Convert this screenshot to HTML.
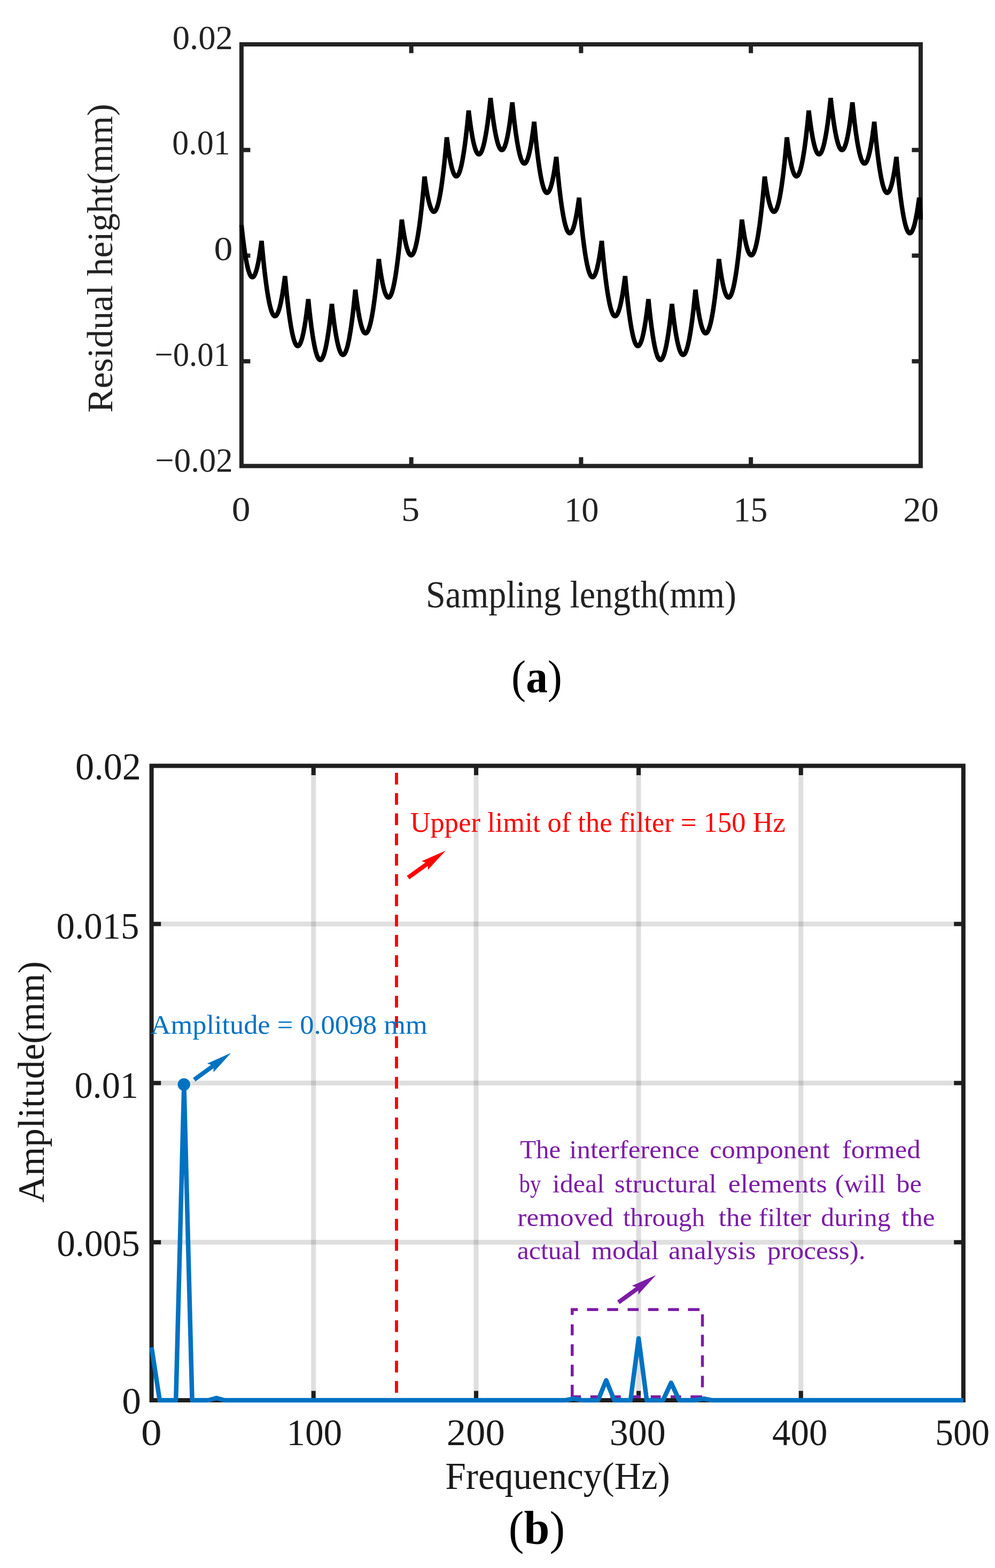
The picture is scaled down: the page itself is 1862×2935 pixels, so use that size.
<!DOCTYPE html>
<html><head><meta charset="utf-8"><title>Figure</title>
<style>html,body{margin:0;padding:0;background:#fff;}svg{display:block;}</style>
</head><body>
<svg width="1862" height="2935" viewBox="0 0 1862 2935"><rect x="451.9" y="83.0" width="1271.0" height="789.3" fill="none" stroke="#222222" stroke-width="8"/>
<path d="M769.65,83.0V99.5M769.65,872.3V855.8M1087.40,83.0V99.5M1087.40,872.3V855.8M1405.15,83.0V99.5M1405.15,872.3V855.8M451.9,280.80H468.4M1722.9,280.80H1706.4M451.9,478.50H468.4M1722.9,478.50H1706.4M451.9,676.30H468.4M1722.9,676.30H1706.4" stroke="#222222" stroke-width="8" fill="none"/>
<path d="M451.90,421.30 L452.14,423.59 L452.56,427.51 L452.98,431.36 L453.40,435.12 L453.82,438.80 L454.24,442.40 L454.66,445.91 L455.08,449.35 L455.50,452.69 L455.92,455.96 L456.34,459.14 L456.76,462.25 L457.18,465.26 L457.60,468.20 L458.02,471.05 L458.44,473.82 L458.86,476.51 L459.28,479.12 L459.70,481.64 L460.12,484.08 L460.54,486.43 L460.96,488.71 L461.38,490.90 L461.80,493.01 L462.22,495.03 L462.64,496.98 L463.06,498.84 L463.48,500.62 L463.90,502.31 L464.32,503.92 L464.74,505.45 L465.16,506.90 L465.58,508.27 L466.00,509.55 L466.42,510.75 L466.84,511.86 L467.26,512.90 L467.68,513.85 L468.10,514.72 L468.52,515.50 L468.94,516.20 L469.36,516.82 L469.78,517.36 L470.20,517.82 L470.62,518.19 L471.04,518.48 L471.46,518.68 L471.88,518.81 L472.30,518.85 L472.59,518.83 L472.87,518.77 L473.16,518.68 L473.45,518.55 L473.73,518.38 L474.02,518.17 L474.31,517.93 L474.59,517.64 L474.88,517.32 L475.17,516.97 L475.45,516.57 L475.74,516.14 L476.03,515.66 L476.31,515.16 L476.60,514.61 L476.89,514.03 L477.17,513.40 L477.46,512.74 L477.75,512.05 L478.03,511.31 L478.32,510.54 L478.61,509.73 L478.89,508.88 L479.18,507.99 L479.47,507.07 L479.75,506.11 L480.04,505.11 L480.33,504.07 L480.61,503.00 L480.90,501.89 L481.19,500.74 L481.47,499.55 L481.76,498.33 L482.05,497.06 L482.33,495.76 L482.62,494.42 L482.91,493.05 L483.19,491.63 L483.48,490.18 L483.77,488.69 L484.05,487.17 L484.34,485.60 L484.63,484.00 L484.91,482.36 L485.20,480.68 L485.49,478.97 L485.77,477.22 L486.06,475.43 L486.35,473.60 L486.63,471.73 L486.92,469.83 L487.21,467.89 L487.49,465.91 L487.78,463.89 L488.07,461.84 L488.35,459.75 L488.64,457.62 L488.93,455.45 L489.21,453.24 L489.50,451.00 L489.92,455.65 L490.33,460.23 L490.75,464.72 L491.17,469.14 L491.58,473.48 L492.00,477.74 L492.42,481.93 L492.83,486.03 L493.25,490.06 L493.67,494.01 L494.08,497.88 L494.50,501.67 L494.92,505.38 L495.33,509.02 L495.75,512.58 L496.17,516.06 L496.58,519.46 L497.00,522.78 L497.42,526.03 L497.83,529.19 L498.25,532.28 L498.67,535.29 L499.08,538.23 L499.50,541.08 L499.92,543.86 L500.33,546.55 L500.75,549.17 L501.17,551.71 L501.58,554.18 L502.00,556.56 L502.42,558.87 L502.83,561.10 L503.25,563.25 L503.67,565.32 L504.08,567.31 L504.50,569.23 L504.92,571.07 L505.33,572.83 L505.75,574.51 L506.17,576.11 L506.58,577.64 L507.00,579.08 L507.42,580.45 L507.83,581.74 L508.25,582.95 L508.67,584.09 L509.08,585.14 L509.50,586.12 L509.92,587.02 L510.33,587.84 L510.75,588.58 L511.17,589.25 L511.58,589.83 L512.00,590.34 L512.42,590.77 L512.83,591.12 L513.25,591.40 L513.67,591.59 L514.08,591.71 L514.50,591.75 L514.81,591.73 L515.13,591.67 L515.44,591.56 L515.75,591.42 L516.07,591.23 L516.38,591.00 L516.69,590.73 L517.01,590.42 L517.32,590.06 L517.63,589.67 L517.95,589.23 L518.26,588.75 L518.57,588.23 L518.89,587.67 L519.20,587.07 L519.51,586.42 L519.83,585.73 L520.14,585.00 L520.45,584.23 L520.77,583.42 L521.08,582.57 L521.39,581.67 L521.71,580.74 L522.02,579.76 L522.33,578.74 L522.65,577.68 L522.96,576.57 L523.27,575.43 L523.59,574.24 L523.90,573.01 L524.21,571.74 L524.53,570.43 L524.84,569.08 L525.15,567.68 L525.47,566.25 L525.78,564.77 L526.09,563.25 L526.41,561.69 L526.72,560.08 L527.03,558.44 L527.35,556.75 L527.66,555.02 L527.97,553.25 L528.29,551.44 L528.60,549.59 L528.91,547.70 L529.23,545.76 L529.54,543.78 L529.85,541.76 L530.17,539.70 L530.48,537.60 L530.79,535.45 L531.11,533.27 L531.42,531.04 L531.73,528.77 L532.05,526.46 L532.36,524.11 L532.67,521.71 L532.99,519.28 L533.30,516.80 L533.70,521.13 L534.10,525.38 L534.50,529.57 L534.89,533.68 L535.29,537.72 L535.69,541.68 L536.09,545.57 L536.49,549.39 L536.88,553.14 L537.28,556.81 L537.68,560.41 L538.08,563.94 L538.48,567.40 L538.88,570.78 L539.27,574.09 L539.67,577.33 L540.07,580.49 L540.47,583.58 L540.87,586.60 L541.27,589.55 L541.66,592.42 L542.06,595.22 L542.46,597.95 L542.86,600.61 L543.26,603.19 L543.66,605.70 L544.05,608.14 L544.45,610.50 L544.85,612.79 L545.25,615.01 L545.65,617.16 L546.05,619.23 L546.45,621.23 L546.84,623.16 L547.24,625.02 L547.64,626.80 L548.04,628.51 L548.44,630.14 L548.84,631.71 L549.23,633.20 L549.63,634.62 L550.03,635.96 L550.43,637.24 L550.83,638.44 L551.23,639.57 L551.62,640.62 L552.02,641.60 L552.42,642.51 L552.82,643.35 L553.22,644.11 L553.62,644.80 L554.01,645.42 L554.41,645.97 L554.81,646.44 L555.21,646.84 L555.61,647.17 L556.00,647.42 L556.40,647.60 L556.80,647.71 L557.20,647.75 L557.53,647.73 L557.86,647.65 L558.19,647.53 L558.51,647.36 L558.84,647.14 L559.17,646.87 L559.50,646.56 L559.83,646.19 L560.16,645.78 L560.48,645.31 L560.81,644.80 L561.14,644.24 L561.47,643.63 L561.80,642.97 L562.12,642.27 L562.45,641.51 L562.78,640.71 L563.11,639.85 L563.44,638.95 L563.77,638.00 L564.10,637.00 L564.42,635.95 L564.75,634.86 L565.08,633.71 L565.41,632.52 L565.74,631.27 L566.07,629.98 L566.39,628.64 L566.72,627.25 L567.05,625.81 L567.38,624.33 L567.71,622.79 L568.03,621.21 L568.36,619.57 L568.69,617.89 L569.02,616.16 L569.35,614.38 L569.68,612.55 L570.00,610.68 L570.33,608.75 L570.66,606.78 L570.99,604.75 L571.32,602.68 L571.65,600.56 L571.98,598.39 L572.30,596.17 L572.63,593.91 L572.96,591.59 L573.29,589.23 L573.62,586.81 L573.94,584.35 L574.27,581.84 L574.60,579.28 L574.93,576.67 L575.26,574.02 L575.59,571.31 L575.91,568.56 L576.24,565.75 L576.57,562.90 L576.90,560.00 L577.27,563.76 L577.65,567.46 L578.02,571.09 L578.39,574.66 L578.77,578.17 L579.14,581.61 L579.51,584.99 L579.89,588.31 L580.26,591.57 L580.63,594.76 L581.01,597.89 L581.38,600.95 L581.75,603.95 L582.13,606.89 L582.50,609.77 L582.87,612.58 L583.25,615.33 L583.62,618.01 L583.99,620.64 L584.37,623.19 L584.74,625.69 L585.11,628.12 L585.49,630.49 L585.86,632.80 L586.23,635.04 L586.61,637.22 L586.98,639.34 L587.35,641.39 L587.73,643.39 L588.10,645.31 L588.47,647.18 L588.85,648.98 L589.22,650.72 L589.59,652.39 L589.97,654.00 L590.34,655.55 L590.71,657.04 L591.09,658.46 L591.46,659.82 L591.83,661.11 L592.21,662.34 L592.58,663.51 L592.95,664.62 L593.33,665.66 L593.70,666.64 L594.07,667.56 L594.45,668.41 L594.82,669.20 L595.19,669.93 L595.57,670.59 L595.94,671.19 L596.31,671.73 L596.69,672.20 L597.06,672.61 L597.43,672.96 L597.81,673.24 L598.18,673.47 L598.55,673.62 L598.93,673.72 L599.30,673.75 L599.66,673.72 L600.02,673.63 L600.38,673.49 L600.75,673.28 L601.11,673.02 L601.47,672.70 L601.83,672.32 L602.19,671.89 L602.55,671.39 L602.92,670.84 L603.28,670.23 L603.64,669.56 L604.00,668.83 L604.36,668.05 L604.72,667.20 L605.09,666.30 L605.45,665.34 L605.81,664.32 L606.17,663.25 L606.53,662.11 L606.89,660.92 L607.26,659.67 L607.62,658.36 L607.98,656.99 L608.34,655.56 L608.70,654.08 L609.06,652.54 L609.43,650.94 L609.79,649.28 L610.15,647.56 L610.51,645.79 L610.87,643.95 L611.24,642.06 L611.60,640.11 L611.96,638.11 L612.32,636.04 L612.68,633.92 L613.04,631.73 L613.40,629.49 L613.77,627.19 L614.13,624.84 L614.49,622.42 L614.85,619.95 L615.21,617.42 L615.58,614.83 L615.94,612.18 L616.30,609.47 L616.66,606.71 L617.02,603.89 L617.38,601.01 L617.75,598.07 L618.11,595.07 L618.47,592.02 L618.83,588.90 L619.19,585.73 L619.55,582.50 L619.91,579.21 L620.28,575.87 L620.64,572.46 L621.00,569.00 L621.35,572.15 L621.69,575.24 L622.04,578.29 L622.39,581.28 L622.73,584.21 L623.08,587.10 L623.43,589.93 L623.77,592.71 L624.12,595.43 L624.47,598.10 L624.81,600.72 L625.16,603.29 L625.51,605.80 L625.85,608.26 L626.20,610.67 L626.55,613.03 L626.89,615.33 L627.24,617.58 L627.59,619.77 L627.93,621.92 L628.28,624.01 L628.63,626.04 L628.97,628.03 L629.32,629.96 L629.67,631.84 L630.01,633.66 L630.36,635.44 L630.71,637.16 L631.05,638.82 L631.40,640.44 L631.75,642.00 L632.09,643.51 L632.44,644.96 L632.79,646.36 L633.13,647.71 L633.48,649.01 L633.83,650.25 L634.17,651.44 L634.52,652.58 L634.87,653.67 L635.21,654.70 L635.56,655.68 L635.91,656.60 L636.25,657.48 L636.60,658.30 L636.95,659.06 L637.29,659.78 L637.64,660.44 L637.99,661.05 L638.33,661.60 L638.68,662.11 L639.03,662.56 L639.37,662.95 L639.72,663.30 L640.07,663.59 L640.41,663.83 L640.76,664.01 L641.11,664.14 L641.45,664.22 L641.80,664.25 L642.19,664.22 L642.57,664.11 L642.96,663.95 L643.35,663.71 L643.73,663.40 L644.12,663.03 L644.51,662.59 L644.89,662.08 L645.28,661.51 L645.67,660.86 L646.05,660.15 L646.44,659.37 L646.83,658.53 L647.21,657.61 L647.60,656.63 L647.99,655.58 L648.37,654.46 L648.76,653.27 L649.15,652.02 L649.53,650.70 L649.92,649.31 L650.31,647.85 L650.69,646.33 L651.08,644.74 L651.47,643.08 L651.85,641.35 L652.24,639.56 L652.63,637.69 L653.01,635.76 L653.40,633.76 L653.79,631.70 L654.17,629.56 L654.56,627.36 L654.95,625.09 L655.33,622.75 L655.72,620.35 L656.11,617.88 L656.49,615.33 L656.88,612.73 L657.27,610.05 L657.65,607.31 L658.04,604.49 L658.43,601.62 L658.81,598.67 L659.20,595.65 L659.59,592.57 L659.97,589.42 L660.36,586.20 L660.75,582.92 L661.13,579.56 L661.52,576.14 L661.91,572.65 L662.29,569.10 L662.68,565.47 L663.07,561.78 L663.45,558.02 L663.84,554.19 L664.23,550.29 L664.61,546.33 L665.00,542.30 L665.32,545.00 L665.64,547.65 L665.96,550.25 L666.27,552.81 L666.59,555.33 L666.91,557.79 L667.23,560.22 L667.55,562.60 L667.87,564.93 L668.18,567.22 L668.50,569.46 L668.82,571.66 L669.14,573.81 L669.46,575.92 L669.77,577.98 L670.09,579.99 L670.41,581.97 L670.73,583.89 L671.05,585.77 L671.37,587.61 L671.69,589.40 L672.00,591.14 L672.32,592.84 L672.64,594.49 L672.96,596.10 L673.28,597.66 L673.60,599.18 L673.91,600.65 L674.23,602.08 L674.55,603.46 L674.87,604.80 L675.19,606.09 L675.50,607.34 L675.82,608.54 L676.14,609.69 L676.46,610.80 L676.78,611.87 L677.10,612.89 L677.41,613.86 L677.73,614.79 L678.05,615.67 L678.37,616.51 L678.69,617.30 L679.01,618.05 L679.33,618.75 L679.64,619.41 L679.96,620.02 L680.28,620.59 L680.60,621.11 L680.92,621.58 L681.24,622.02 L681.55,622.40 L681.87,622.74 L682.19,623.03 L682.51,623.28 L682.83,623.49 L683.14,623.65 L683.46,623.76 L683.78,623.83 L684.10,623.85 L684.51,623.81 L684.93,623.70 L685.34,623.50 L685.75,623.23 L686.17,622.89 L686.58,622.46 L686.99,621.96 L687.41,621.38 L687.82,620.73 L688.23,619.99 L688.65,619.18 L689.06,618.30 L689.47,617.33 L689.89,616.29 L690.30,615.17 L690.71,613.98 L691.13,612.70 L691.54,611.35 L691.95,609.93 L692.37,608.42 L692.78,606.84 L693.19,605.18 L693.61,603.45 L694.02,601.63 L694.43,599.74 L694.85,597.78 L695.26,595.73 L695.67,593.61 L696.09,591.41 L696.50,589.14 L696.91,586.78 L697.33,584.35 L697.74,581.85 L698.15,579.26 L698.57,576.60 L698.98,573.86 L699.39,571.05 L699.81,568.16 L700.22,565.19 L700.63,562.14 L701.05,559.01 L701.46,555.81 L701.87,552.54 L702.29,549.18 L702.70,545.75 L703.11,542.24 L703.53,538.65 L703.94,534.99 L704.35,531.24 L704.77,527.43 L705.18,523.53 L705.59,519.56 L706.01,515.51 L706.42,511.38 L706.83,507.18 L707.25,502.90 L707.66,498.54 L708.07,494.10 L708.49,489.59 L708.90,485.00 L709.20,487.38 L709.50,489.71 L709.80,492.01 L710.11,494.26 L710.41,496.48 L710.71,498.65 L711.01,500.79 L711.31,502.88 L711.62,504.94 L711.92,506.95 L712.22,508.93 L712.52,510.87 L712.82,512.76 L713.12,514.62 L713.42,516.43 L713.73,518.21 L714.03,519.95 L714.33,521.64 L714.63,523.30 L714.93,524.92 L715.24,526.49 L715.54,528.03 L715.84,529.53 L716.14,530.98 L716.44,532.40 L716.74,533.78 L717.04,535.12 L717.35,536.41 L717.65,537.67 L717.95,538.89 L718.25,540.07 L718.55,541.20 L718.86,542.30 L719.16,543.36 L719.46,544.38 L719.76,545.35 L720.06,546.29 L720.36,547.19 L720.66,548.05 L720.97,548.87 L721.27,549.65 L721.57,550.38 L721.87,551.08 L722.17,551.74 L722.48,552.36 L722.78,552.94 L723.08,553.48 L723.38,553.98 L723.68,554.44 L723.98,554.85 L724.28,555.23 L724.59,555.57 L724.89,555.87 L725.19,556.13 L725.49,556.35 L725.79,556.53 L726.10,556.67 L726.40,556.77 L726.70,556.83 L727.00,556.85 L727.41,556.81 L727.83,556.69 L728.25,556.49 L728.66,556.20 L729.08,555.84 L729.49,555.39 L729.90,554.86 L730.32,554.26 L730.74,553.57 L731.15,552.80 L731.56,551.95 L731.98,551.02 L732.39,550.00 L732.81,548.91 L733.23,547.73 L733.64,546.48 L734.05,545.14 L734.47,543.72 L734.88,542.22 L735.30,540.64 L735.72,538.98 L736.13,537.24 L736.54,535.42 L736.96,533.51 L737.38,531.53 L737.79,529.46 L738.21,527.32 L738.62,525.09 L739.03,522.78 L739.45,520.39 L739.87,517.92 L740.28,515.36 L740.69,512.73 L741.11,510.02 L741.52,507.22 L741.94,504.34 L742.36,501.39 L742.77,498.35 L743.18,495.23 L743.60,492.03 L744.01,488.75 L744.43,485.38 L744.85,481.94 L745.26,478.42 L745.67,474.81 L746.09,471.12 L746.50,467.35 L746.92,463.51 L747.34,459.58 L747.75,455.57 L748.16,451.47 L748.58,447.30 L749.00,443.05 L749.41,438.71 L749.82,434.30 L750.24,429.80 L750.65,425.22 L751.07,420.56 L751.49,415.82 L751.90,411.00 L752.19,413.21 L752.49,415.38 L752.78,417.52 L753.07,419.62 L753.37,421.68 L753.66,423.70 L753.95,425.69 L754.25,427.64 L754.54,429.55 L754.83,431.43 L755.13,433.26 L755.42,435.07 L755.71,436.83 L756.01,438.56 L756.30,440.25 L756.59,441.90 L756.89,443.52 L757.18,445.09 L757.47,446.63 L757.77,448.14 L758.06,449.61 L758.35,451.04 L758.65,452.43 L758.94,453.78 L759.23,455.10 L759.53,456.38 L759.82,457.63 L760.11,458.83 L760.41,460.00 L760.70,461.14 L760.99,462.23 L761.29,463.29 L761.58,464.31 L761.87,465.30 L762.17,466.24 L762.46,467.15 L762.75,468.03 L763.05,468.86 L763.34,469.66 L763.63,470.42 L763.93,471.15 L764.22,471.83 L764.51,472.48 L764.81,473.10 L765.10,473.67 L765.39,474.21 L765.69,474.71 L765.98,475.18 L766.27,475.60 L766.57,475.99 L766.86,476.35 L767.15,476.66 L767.45,476.94 L767.74,477.18 L768.03,477.39 L768.33,477.55 L768.62,477.68 L768.91,477.78 L769.21,477.83 L769.50,477.85 L769.92,477.81 L770.33,477.69 L770.75,477.48 L771.17,477.20 L771.58,476.83 L772.00,476.38 L772.42,475.84 L772.83,475.23 L773.25,474.53 L773.67,473.76 L774.08,472.90 L774.50,471.96 L774.92,470.93 L775.33,469.83 L775.75,468.64 L776.17,467.37 L776.58,466.02 L777.00,464.59 L777.42,463.07 L777.83,461.48 L778.25,459.80 L778.67,458.04 L779.08,456.20 L779.50,454.27 L779.92,452.27 L780.33,450.18 L780.75,448.01 L781.17,445.76 L781.58,443.43 L782.00,441.01 L782.42,438.52 L782.83,435.94 L783.25,433.28 L783.67,430.53 L784.08,427.71 L784.50,424.80 L784.92,421.82 L785.33,418.75 L785.75,415.59 L786.17,412.36 L786.58,409.05 L787.00,405.65 L787.42,402.17 L787.83,398.61 L788.25,394.97 L788.67,391.24 L789.08,387.43 L789.50,383.55 L789.92,379.58 L790.33,375.52 L790.75,371.39 L791.17,367.17 L791.58,362.88 L792.00,358.50 L792.42,354.04 L792.83,349.49 L793.25,344.87 L793.67,340.16 L794.08,335.37 L794.50,330.50 L794.79,332.68 L795.08,334.82 L795.38,336.92 L795.67,338.99 L795.96,341.02 L796.25,343.01 L796.54,344.97 L796.83,346.89 L797.12,348.77 L797.42,350.62 L797.71,352.43 L798.00,354.21 L798.29,355.94 L798.58,357.64 L798.88,359.31 L799.17,360.94 L799.46,362.53 L799.75,364.08 L800.04,365.60 L800.33,367.08 L800.62,368.53 L800.92,369.94 L801.21,371.31 L801.50,372.64 L801.79,373.94 L802.08,375.20 L802.38,376.43 L802.67,377.62 L802.96,378.77 L803.25,379.89 L803.54,380.97 L803.83,382.01 L804.12,383.02 L804.42,383.98 L804.71,384.92 L805.00,385.81 L805.29,386.67 L805.58,387.50 L805.88,388.28 L806.17,389.03 L806.46,389.75 L806.75,390.42 L807.04,391.06 L807.33,391.67 L807.62,392.23 L807.92,392.76 L808.21,393.26 L808.50,393.72 L808.79,394.14 L809.08,394.52 L809.38,394.87 L809.67,395.18 L809.96,395.45 L810.25,395.69 L810.54,395.89 L810.83,396.06 L811.12,396.19 L811.42,396.28 L811.71,396.33 L812.00,396.35 L812.40,396.31 L812.80,396.20 L813.21,396.00 L813.61,395.73 L814.01,395.38 L814.41,394.96 L814.81,394.45 L815.21,393.87 L815.62,393.21 L816.02,392.48 L816.42,391.67 L816.82,390.78 L817.22,389.81 L817.62,388.76 L818.02,387.64 L818.43,386.44 L818.83,385.16 L819.23,383.81 L819.63,382.38 L820.03,380.87 L820.44,379.28 L820.84,377.62 L821.24,375.87 L821.64,374.05 L822.04,372.16 L822.44,370.18 L822.85,368.13 L823.25,366.00 L823.65,363.80 L824.05,361.51 L824.45,359.15 L824.85,356.71 L825.25,354.20 L825.66,351.60 L826.06,348.93 L826.46,346.18 L826.86,343.36 L827.26,340.46 L827.66,337.47 L828.07,334.42 L828.47,331.28 L828.87,328.07 L829.27,324.78 L829.67,321.41 L830.08,317.97 L830.48,314.44 L830.88,310.84 L831.28,307.17 L831.68,303.41 L832.08,299.58 L832.49,295.67 L832.89,291.68 L833.29,287.62 L833.69,283.48 L834.09,279.26 L834.49,274.96 L834.89,270.59 L835.30,266.14 L835.70,261.61 L836.10,257.00 L836.40,259.41 L836.70,261.79 L837.00,264.12 L837.29,266.42 L837.59,268.67 L837.89,270.88 L838.19,273.05 L838.49,275.18 L838.78,277.27 L839.08,279.32 L839.38,281.33 L839.68,283.30 L839.98,285.23 L840.28,287.11 L840.58,288.96 L840.87,290.77 L841.17,292.53 L841.47,294.26 L841.77,295.94 L842.07,297.58 L842.37,299.19 L842.66,300.75 L842.96,302.27 L843.26,303.75 L843.56,305.19 L843.86,306.59 L844.15,307.95 L844.45,309.27 L844.75,310.55 L845.05,311.79 L845.35,312.98 L845.65,314.14 L845.95,315.26 L846.24,316.33 L846.54,317.37 L846.84,318.36 L847.14,319.32 L847.44,320.23 L847.74,321.10 L848.03,321.93 L848.33,322.72 L848.63,323.48 L848.93,324.19 L849.23,324.86 L849.52,325.48 L849.82,326.07 L850.12,326.62 L850.42,327.13 L850.72,327.59 L851.02,328.02 L851.32,328.41 L851.61,328.75 L851.91,329.06 L852.21,329.32 L852.51,329.54 L852.81,329.73 L853.11,329.87 L853.40,329.97 L853.70,330.03 L854.00,330.05 L854.38,330.02 L854.77,329.91 L855.15,329.74 L855.53,329.50 L855.92,329.20 L856.30,328.82 L856.68,328.38 L857.07,327.86 L857.45,327.28 L857.83,326.63 L858.22,325.91 L858.60,325.13 L858.98,324.27 L859.37,323.35 L859.75,322.36 L860.13,321.30 L860.52,320.17 L860.90,318.98 L861.28,317.71 L861.67,316.38 L862.05,314.98 L862.43,313.51 L862.82,311.97 L863.20,310.36 L863.58,308.69 L863.97,306.94 L864.35,305.13 L864.73,303.25 L865.12,301.30 L865.50,299.29 L865.88,297.20 L866.27,295.05 L866.65,292.83 L867.03,290.54 L867.42,288.18 L867.80,285.75 L868.18,283.26 L868.57,280.69 L868.95,278.06 L869.33,275.36 L869.72,272.59 L870.10,269.76 L870.48,266.85 L870.87,263.88 L871.25,260.83 L871.63,257.72 L872.02,254.55 L872.40,251.30 L872.78,247.98 L873.17,244.60 L873.55,241.15 L873.93,237.63 L874.32,234.04 L874.70,230.38 L875.08,226.65 L875.47,222.86 L875.85,219.00 L876.23,215.07 L876.62,211.07 L877.00,207.00 L877.32,209.71 L877.64,212.37 L877.96,214.98 L878.28,217.55 L878.60,220.07 L878.92,222.55 L879.24,224.98 L879.56,227.37 L879.88,229.71 L880.20,232.01 L880.52,234.26 L880.84,236.47 L881.16,238.63 L881.48,240.74 L881.80,242.81 L882.12,244.83 L882.44,246.81 L882.76,248.74 L883.08,250.63 L883.40,252.47 L883.72,254.27 L884.04,256.02 L884.36,257.72 L884.68,259.38 L885.00,261.00 L885.32,262.57 L885.64,264.09 L885.96,265.57 L886.28,267.00 L886.60,268.39 L886.92,269.73 L887.24,271.02 L887.56,272.28 L887.88,273.48 L888.20,274.64 L888.52,275.75 L888.84,276.82 L889.16,277.85 L889.48,278.82 L889.80,279.76 L890.12,280.64 L890.44,281.48 L890.76,282.28 L891.08,283.03 L891.40,283.73 L891.72,284.39 L892.04,285.01 L892.36,285.58 L892.68,286.10 L893.00,286.58 L893.32,287.01 L893.64,287.39 L893.96,287.74 L894.28,288.03 L894.60,288.28 L894.92,288.49 L895.24,288.65 L895.56,288.76 L895.88,288.83 L896.20,288.85 L896.56,288.82 L896.93,288.73 L897.29,288.59 L897.65,288.38 L898.02,288.12 L898.38,287.80 L898.74,287.41 L899.11,286.98 L899.47,286.48 L899.83,285.92 L900.20,285.31 L900.56,284.63 L900.92,283.90 L901.29,283.11 L901.65,282.26 L902.01,281.35 L902.38,280.38 L902.74,279.36 L903.10,278.28 L903.47,277.13 L903.83,275.93 L904.19,274.67 L904.56,273.35 L904.92,271.98 L905.28,270.54 L905.65,269.05 L906.01,267.50 L906.37,265.89 L906.74,264.22 L907.10,262.49 L907.46,260.70 L907.83,258.86 L908.19,256.95 L908.55,254.99 L908.92,252.97 L909.28,250.89 L909.64,248.75 L910.01,246.55 L910.37,244.30 L910.73,241.98 L911.10,239.61 L911.46,237.18 L911.82,234.69 L912.19,232.14 L912.55,229.53 L912.91,226.87 L913.28,224.14 L913.64,221.36 L914.00,218.52 L914.37,215.62 L914.73,212.66 L915.09,209.65 L915.46,206.57 L915.82,203.44 L916.18,200.24 L916.55,196.99 L916.91,193.68 L917.27,190.31 L917.64,186.89 L918.00,183.40 L918.35,186.62 L918.71,189.79 L919.06,192.90 L919.41,195.96 L919.77,198.96 L920.12,201.92 L920.47,204.81 L920.83,207.65 L921.18,210.44 L921.53,213.18 L921.89,215.86 L922.24,218.48 L922.59,221.05 L922.95,223.57 L923.30,226.03 L923.65,228.44 L924.01,230.80 L924.36,233.10 L924.71,235.35 L925.07,237.54 L925.42,239.68 L925.77,241.76 L926.13,243.79 L926.48,245.77 L926.83,247.69 L927.19,249.56 L927.54,251.37 L927.89,253.13 L928.25,254.84 L928.60,256.49 L928.95,258.08 L929.31,259.63 L929.66,261.12 L930.01,262.55 L930.37,263.93 L930.72,265.26 L931.07,266.53 L931.43,267.75 L931.78,268.91 L932.13,270.02 L932.49,271.08 L932.84,272.08 L933.19,273.03 L933.55,273.92 L933.90,274.76 L934.25,275.54 L934.61,276.28 L934.96,276.95 L935.31,277.57 L935.67,278.14 L936.02,278.66 L936.37,279.12 L936.73,279.52 L937.08,279.88 L937.43,280.17 L937.79,280.42 L938.14,280.61 L938.49,280.74 L938.85,280.82 L939.20,280.85 L939.53,280.83 L939.85,280.75 L940.18,280.63 L940.50,280.45 L940.83,280.23 L941.15,279.96 L941.48,279.64 L941.80,279.27 L942.12,278.84 L942.45,278.37 L942.78,277.85 L943.10,277.28 L943.43,276.66 L943.75,276.00 L944.08,275.28 L944.40,274.51 L944.73,273.69 L945.05,272.83 L945.38,271.91 L945.70,270.94 L946.03,269.93 L946.35,268.86 L946.68,267.75 L947.00,266.59 L947.33,265.37 L947.65,264.11 L947.98,262.80 L948.30,261.44 L948.62,260.02 L948.95,258.56 L949.28,257.05 L949.60,255.49 L949.93,253.88 L950.25,252.22 L950.58,250.51 L950.90,248.76 L951.23,246.95 L951.55,245.09 L951.88,243.18 L952.20,241.23 L952.53,239.22 L952.85,237.17 L953.18,235.06 L953.50,232.91 L953.83,230.70 L954.15,228.45 L954.48,226.15 L954.80,223.79 L955.12,221.39 L955.45,218.94 L955.78,216.44 L956.10,213.89 L956.43,211.29 L956.75,208.64 L957.08,205.94 L957.40,203.19 L957.73,200.39 L958.05,197.54 L958.38,194.65 L958.70,191.70 L959.08,195.48 L959.45,199.20 L959.83,202.85 L960.21,206.44 L960.58,209.96 L960.96,213.43 L961.34,216.83 L961.71,220.16 L962.09,223.43 L962.47,226.64 L962.84,229.78 L963.22,232.87 L963.60,235.88 L963.97,238.84 L964.35,241.73 L964.73,244.56 L965.10,247.32 L965.48,250.02 L965.86,252.65 L966.23,255.23 L966.61,257.74 L966.99,260.18 L967.36,262.57 L967.74,264.88 L968.12,267.14 L968.49,269.33 L968.87,271.46 L969.25,273.52 L969.62,275.52 L970.00,277.46 L970.38,279.34 L970.75,281.15 L971.13,282.89 L971.51,284.58 L971.88,286.20 L972.26,287.75 L972.64,289.25 L973.01,290.68 L973.39,292.04 L973.77,293.34 L974.14,294.58 L974.52,295.76 L974.90,296.87 L975.27,297.92 L975.65,298.90 L976.03,299.82 L976.40,300.68 L976.78,301.48 L977.16,302.21 L977.53,302.87 L977.91,303.48 L978.29,304.02 L978.66,304.49 L979.04,304.91 L979.42,305.26 L979.79,305.54 L980.17,305.76 L980.55,305.92 L980.92,306.02 L981.30,306.05 L981.60,306.03 L981.91,305.96 L982.21,305.85 L982.52,305.70 L982.82,305.51 L983.13,305.27 L983.43,304.99 L983.74,304.66 L984.04,304.29 L984.35,303.88 L984.65,303.43 L984.96,302.93 L985.26,302.39 L985.57,301.80 L985.88,301.17 L986.18,300.50 L986.49,299.78 L986.79,299.03 L987.10,298.22 L987.40,297.38 L987.70,296.49 L988.01,295.56 L988.31,294.58 L988.62,293.56 L988.92,292.50 L989.23,291.39 L989.53,290.24 L989.84,289.05 L990.14,287.82 L990.45,286.54 L990.75,285.21 L991.06,283.85 L991.37,282.44 L991.67,280.99 L991.98,279.49 L992.28,277.95 L992.59,276.37 L992.89,274.74 L993.20,273.07 L993.50,271.36 L993.80,269.60 L994.11,267.81 L994.41,265.96 L994.72,264.08 L995.02,262.15 L995.33,260.17 L995.63,258.16 L995.94,256.10 L996.25,253.99 L996.55,251.85 L996.86,249.66 L997.16,247.43 L997.47,245.15 L997.77,242.83 L998.08,240.47 L998.38,238.06 L998.69,235.61 L998.99,233.12 L999.30,230.58 L999.60,228.00 L1000.00,232.39 L1000.40,236.72 L1000.80,240.96 L1001.20,245.14 L1001.60,249.24 L1002.00,253.26 L1002.40,257.21 L1002.80,261.09 L1003.20,264.89 L1003.60,268.62 L1004.00,272.28 L1004.40,275.86 L1004.80,279.37 L1005.20,282.80 L1005.60,286.17 L1006.00,289.45 L1006.40,292.67 L1006.80,295.80 L1007.20,298.87 L1007.60,301.86 L1008.00,304.78 L1008.40,307.62 L1008.80,310.39 L1009.20,313.09 L1009.60,315.71 L1010.00,318.26 L1010.40,320.73 L1010.80,323.13 L1011.20,325.46 L1011.60,327.71 L1012.00,329.89 L1012.40,332.00 L1012.80,334.03 L1013.20,335.98 L1013.60,337.87 L1014.00,339.68 L1014.40,341.41 L1014.80,343.08 L1015.20,344.66 L1015.60,346.18 L1016.00,347.62 L1016.40,348.98 L1016.80,350.28 L1017.20,351.50 L1017.60,352.64 L1018.00,353.71 L1018.40,354.71 L1018.80,355.63 L1019.20,356.48 L1019.60,357.26 L1020.00,357.96 L1020.40,358.59 L1020.80,359.14 L1021.20,359.62 L1021.60,360.03 L1022.00,360.36 L1022.40,360.62 L1022.80,360.80 L1023.20,360.91 L1023.60,360.95 L1023.89,360.93 L1024.18,360.88 L1024.47,360.78 L1024.76,360.65 L1025.05,360.48 L1025.34,360.28 L1025.63,360.03 L1025.92,359.75 L1026.21,359.44 L1026.50,359.08 L1026.79,358.69 L1027.08,358.26 L1027.37,357.79 L1027.66,357.29 L1027.95,356.75 L1028.24,356.17 L1028.53,355.55 L1028.82,354.90 L1029.11,354.21 L1029.40,353.48 L1029.69,352.71 L1029.98,351.91 L1030.27,351.07 L1030.56,350.19 L1030.85,349.27 L1031.14,348.32 L1031.43,347.33 L1031.72,346.30 L1032.01,345.24 L1032.30,344.14 L1032.59,343.00 L1032.88,341.82 L1033.17,340.61 L1033.46,339.36 L1033.75,338.07 L1034.04,336.74 L1034.33,335.38 L1034.62,333.98 L1034.91,332.54 L1035.20,331.06 L1035.49,329.55 L1035.78,328.00 L1036.07,326.41 L1036.36,324.78 L1036.65,323.12 L1036.94,321.42 L1037.23,319.68 L1037.52,317.91 L1037.81,316.10 L1038.10,314.25 L1038.39,312.36 L1038.68,310.44 L1038.97,308.48 L1039.26,306.48 L1039.55,304.44 L1039.84,302.37 L1040.13,300.26 L1040.42,298.11 L1040.71,295.92 L1041.00,293.70 L1041.42,298.42 L1041.84,303.06 L1042.26,307.62 L1042.68,312.10 L1043.10,316.50 L1043.52,320.82 L1043.94,325.07 L1044.36,329.23 L1044.78,333.31 L1045.20,337.32 L1045.62,341.24 L1046.04,345.09 L1046.46,348.86 L1046.88,352.54 L1047.30,356.15 L1047.72,359.68 L1048.14,363.13 L1048.56,366.50 L1048.98,369.79 L1049.40,373.01 L1049.82,376.14 L1050.24,379.19 L1050.66,382.17 L1051.08,385.06 L1051.50,387.88 L1051.92,390.61 L1052.34,393.27 L1052.76,395.85 L1053.18,398.34 L1053.60,400.76 L1054.02,403.10 L1054.44,405.36 L1054.86,407.54 L1055.28,409.64 L1055.70,411.67 L1056.12,413.61 L1056.54,415.47 L1056.96,417.26 L1057.38,418.96 L1057.80,420.59 L1058.22,422.14 L1058.64,423.60 L1059.06,424.99 L1059.48,426.30 L1059.90,427.53 L1060.32,428.68 L1060.74,429.75 L1061.16,430.74 L1061.58,431.65 L1062.00,432.48 L1062.42,433.24 L1062.84,433.91 L1063.26,434.51 L1063.68,435.02 L1064.10,435.46 L1064.52,435.82 L1064.94,436.09 L1065.36,436.29 L1065.78,436.41 L1066.20,436.45 L1066.49,436.43 L1066.78,436.38 L1067.07,436.28 L1067.36,436.15 L1067.65,435.99 L1067.94,435.79 L1068.23,435.55 L1068.52,435.27 L1068.81,434.95 L1069.10,434.60 L1069.39,434.22 L1069.68,433.79 L1069.97,433.33 L1070.26,432.83 L1070.55,432.30 L1070.84,431.72 L1071.13,431.12 L1071.42,430.47 L1071.71,429.79 L1072.00,429.07 L1072.29,428.31 L1072.58,427.52 L1072.87,426.69 L1073.16,425.82 L1073.45,424.91 L1073.74,423.97 L1074.03,422.99 L1074.32,421.98 L1074.61,420.93 L1074.90,419.84 L1075.19,418.71 L1075.48,417.55 L1075.77,416.35 L1076.06,415.11 L1076.35,413.84 L1076.64,412.53 L1076.93,411.18 L1077.22,409.80 L1077.51,408.37 L1077.80,406.92 L1078.09,405.42 L1078.38,403.89 L1078.67,402.32 L1078.96,400.71 L1079.25,399.07 L1079.54,397.39 L1079.83,395.68 L1080.12,393.92 L1080.41,392.13 L1080.70,390.30 L1080.99,388.44 L1081.28,386.54 L1081.57,384.60 L1081.86,382.63 L1082.15,380.61 L1082.44,378.56 L1082.73,376.48 L1083.02,374.36 L1083.31,372.20 L1083.60,370.00 L1084.02,374.92 L1084.44,379.76 L1084.86,384.51 L1085.28,389.19 L1085.70,393.77 L1086.12,398.28 L1086.54,402.71 L1086.96,407.05 L1087.38,411.31 L1087.80,415.48 L1088.22,419.58 L1088.64,423.59 L1089.06,427.51 L1089.48,431.36 L1089.90,435.12 L1090.32,438.80 L1090.74,442.40 L1091.16,445.91 L1091.58,449.35 L1092.00,452.69 L1092.42,455.96 L1092.84,459.14 L1093.26,462.25 L1093.68,465.26 L1094.10,468.20 L1094.52,471.05 L1094.94,473.82 L1095.36,476.51 L1095.78,479.12 L1096.20,481.64 L1096.62,484.08 L1097.04,486.43 L1097.46,488.71 L1097.88,490.90 L1098.30,493.01 L1098.72,495.03 L1099.14,496.98 L1099.56,498.84 L1099.98,500.62 L1100.40,502.31 L1100.82,503.92 L1101.24,505.45 L1101.66,506.90 L1102.08,508.27 L1102.50,509.55 L1102.92,510.75 L1103.34,511.86 L1103.76,512.90 L1104.18,513.85 L1104.60,514.72 L1105.02,515.50 L1105.44,516.20 L1105.86,516.82 L1106.28,517.36 L1106.70,517.82 L1107.12,518.19 L1107.54,518.48 L1107.96,518.68 L1108.38,518.81 L1108.80,518.85 L1109.09,518.83 L1109.37,518.77 L1109.66,518.68 L1109.95,518.55 L1110.23,518.38 L1110.52,518.17 L1110.81,517.93 L1111.09,517.64 L1111.38,517.32 L1111.67,516.97 L1111.95,516.57 L1112.24,516.14 L1112.53,515.66 L1112.81,515.16 L1113.10,514.61 L1113.39,514.03 L1113.67,513.40 L1113.96,512.74 L1114.25,512.05 L1114.53,511.31 L1114.82,510.54 L1115.11,509.73 L1115.39,508.88 L1115.68,507.99 L1115.97,507.07 L1116.25,506.11 L1116.54,505.11 L1116.83,504.07 L1117.11,503.00 L1117.40,501.89 L1117.69,500.74 L1117.97,499.55 L1118.26,498.33 L1118.55,497.06 L1118.83,495.76 L1119.12,494.42 L1119.41,493.05 L1119.69,491.63 L1119.98,490.18 L1120.27,488.69 L1120.55,487.17 L1120.84,485.60 L1121.13,484.00 L1121.41,482.36 L1121.70,480.68 L1121.99,478.97 L1122.27,477.22 L1122.56,475.43 L1122.85,473.60 L1123.13,471.73 L1123.42,469.83 L1123.71,467.89 L1123.99,465.91 L1124.28,463.89 L1124.57,461.84 L1124.85,459.75 L1125.14,457.62 L1125.43,455.45 L1125.71,453.24 L1126.00,451.00 L1126.42,455.65 L1126.83,460.23 L1127.25,464.72 L1127.67,469.14 L1128.08,473.48 L1128.50,477.74 L1128.92,481.93 L1129.33,486.03 L1129.75,490.06 L1130.17,494.01 L1130.58,497.88 L1131.00,501.67 L1131.42,505.38 L1131.83,509.02 L1132.25,512.58 L1132.67,516.06 L1133.08,519.46 L1133.50,522.78 L1133.92,526.03 L1134.33,529.19 L1134.75,532.28 L1135.17,535.29 L1135.58,538.23 L1136.00,541.08 L1136.42,543.86 L1136.83,546.55 L1137.25,549.17 L1137.67,551.71 L1138.08,554.18 L1138.50,556.56 L1138.92,558.87 L1139.33,561.10 L1139.75,563.25 L1140.17,565.32 L1140.58,567.31 L1141.00,569.23 L1141.42,571.07 L1141.83,572.83 L1142.25,574.51 L1142.67,576.11 L1143.08,577.64 L1143.50,579.08 L1143.92,580.45 L1144.33,581.74 L1144.75,582.95 L1145.17,584.09 L1145.58,585.14 L1146.00,586.12 L1146.42,587.02 L1146.83,587.84 L1147.25,588.58 L1147.67,589.25 L1148.08,589.83 L1148.50,590.34 L1148.92,590.77 L1149.33,591.12 L1149.75,591.40 L1150.17,591.59 L1150.58,591.71 L1151.00,591.75 L1151.31,591.73 L1151.63,591.67 L1151.94,591.56 L1152.25,591.42 L1152.57,591.23 L1152.88,591.00 L1153.19,590.73 L1153.51,590.42 L1153.82,590.06 L1154.13,589.67 L1154.45,589.23 L1154.76,588.75 L1155.07,588.23 L1155.39,587.67 L1155.70,587.07 L1156.01,586.42 L1156.33,585.73 L1156.64,585.00 L1156.95,584.23 L1157.27,583.42 L1157.58,582.57 L1157.89,581.67 L1158.21,580.74 L1158.52,579.76 L1158.83,578.74 L1159.15,577.68 L1159.46,576.57 L1159.77,575.43 L1160.09,574.24 L1160.40,573.01 L1160.71,571.74 L1161.03,570.43 L1161.34,569.08 L1161.65,567.68 L1161.97,566.25 L1162.28,564.77 L1162.59,563.25 L1162.91,561.69 L1163.22,560.08 L1163.53,558.44 L1163.85,556.75 L1164.16,555.02 L1164.47,553.25 L1164.79,551.44 L1165.10,549.59 L1165.41,547.70 L1165.73,545.76 L1166.04,543.78 L1166.35,541.76 L1166.67,539.70 L1166.98,537.60 L1167.29,535.45 L1167.61,533.27 L1167.92,531.04 L1168.23,528.77 L1168.55,526.46 L1168.86,524.11 L1169.17,521.71 L1169.49,519.28 L1169.80,516.80 L1170.20,521.13 L1170.60,525.38 L1170.99,529.57 L1171.39,533.68 L1171.79,537.72 L1172.19,541.68 L1172.59,545.57 L1172.99,549.39 L1173.38,553.14 L1173.78,556.81 L1174.18,560.41 L1174.58,563.94 L1174.98,567.40 L1175.38,570.78 L1175.78,574.09 L1176.17,577.33 L1176.57,580.49 L1176.97,583.58 L1177.37,586.60 L1177.77,589.55 L1178.16,592.42 L1178.56,595.22 L1178.96,597.95 L1179.36,600.61 L1179.76,603.19 L1180.16,605.70 L1180.56,608.14 L1180.95,610.50 L1181.35,612.79 L1181.75,615.01 L1182.15,617.16 L1182.55,619.23 L1182.94,621.23 L1183.34,623.16 L1183.74,625.02 L1184.14,626.80 L1184.54,628.51 L1184.94,630.14 L1185.34,631.71 L1185.73,633.20 L1186.13,634.62 L1186.53,635.96 L1186.93,637.24 L1187.33,638.44 L1187.72,639.57 L1188.12,640.62 L1188.52,641.60 L1188.92,642.51 L1189.32,643.35 L1189.72,644.11 L1190.12,644.80 L1190.51,645.42 L1190.91,645.97 L1191.31,646.44 L1191.71,646.84 L1192.11,647.17 L1192.51,647.42 L1192.90,647.60 L1193.30,647.71 L1193.70,647.75 L1194.03,647.73 L1194.36,647.65 L1194.68,647.53 L1195.01,647.36 L1195.34,647.14 L1195.67,646.87 L1196.00,646.56 L1196.33,646.19 L1196.65,645.78 L1196.98,645.31 L1197.31,644.80 L1197.64,644.24 L1197.97,643.63 L1198.30,642.97 L1198.62,642.27 L1198.95,641.51 L1199.28,640.71 L1199.61,639.85 L1199.94,638.95 L1200.27,638.00 L1200.60,637.00 L1200.92,635.95 L1201.25,634.86 L1201.58,633.71 L1201.91,632.52 L1202.24,631.27 L1202.57,629.98 L1202.89,628.64 L1203.22,627.25 L1203.55,625.81 L1203.88,624.33 L1204.21,622.79 L1204.54,621.21 L1204.86,619.57 L1205.19,617.89 L1205.52,616.16 L1205.85,614.38 L1206.18,612.55 L1206.51,610.68 L1206.83,608.75 L1207.16,606.78 L1207.49,604.75 L1207.82,602.68 L1208.15,600.56 L1208.48,598.39 L1208.80,596.17 L1209.13,593.91 L1209.46,591.59 L1209.79,589.23 L1210.12,586.81 L1210.45,584.35 L1210.77,581.84 L1211.10,579.28 L1211.43,576.67 L1211.76,574.02 L1212.09,571.31 L1212.42,568.56 L1212.74,565.75 L1213.07,562.90 L1213.40,560.00 L1213.77,563.76 L1214.15,567.46 L1214.52,571.09 L1214.89,574.66 L1215.27,578.17 L1215.64,581.61 L1216.01,584.99 L1216.39,588.31 L1216.76,591.57 L1217.13,594.76 L1217.51,597.89 L1217.88,600.95 L1218.25,603.95 L1218.63,606.89 L1219.00,609.77 L1219.37,612.58 L1219.75,615.33 L1220.12,618.01 L1220.49,620.64 L1220.87,623.19 L1221.24,625.69 L1221.61,628.12 L1221.99,630.49 L1222.36,632.80 L1222.73,635.04 L1223.11,637.22 L1223.48,639.34 L1223.85,641.39 L1224.23,643.39 L1224.60,645.31 L1224.97,647.18 L1225.35,648.98 L1225.72,650.72 L1226.09,652.39 L1226.47,654.00 L1226.84,655.55 L1227.21,657.04 L1227.59,658.46 L1227.96,659.82 L1228.33,661.11 L1228.71,662.34 L1229.08,663.51 L1229.45,664.62 L1229.83,665.66 L1230.20,666.64 L1230.57,667.56 L1230.95,668.41 L1231.32,669.20 L1231.69,669.93 L1232.07,670.59 L1232.44,671.19 L1232.81,671.73 L1233.19,672.20 L1233.56,672.61 L1233.93,672.96 L1234.31,673.24 L1234.68,673.47 L1235.05,673.62 L1235.43,673.72 L1235.80,673.75 L1236.16,673.72 L1236.52,673.63 L1236.88,673.49 L1237.25,673.28 L1237.61,673.02 L1237.97,672.70 L1238.33,672.32 L1238.69,671.89 L1239.06,671.39 L1239.42,670.84 L1239.78,670.23 L1240.14,669.56 L1240.50,668.83 L1240.86,668.05 L1241.22,667.20 L1241.59,666.30 L1241.95,665.34 L1242.31,664.32 L1242.67,663.25 L1243.03,662.11 L1243.39,660.92 L1243.76,659.67 L1244.12,658.36 L1244.48,656.99 L1244.84,655.56 L1245.20,654.08 L1245.57,652.54 L1245.93,650.94 L1246.29,649.28 L1246.65,647.56 L1247.01,645.79 L1247.37,643.95 L1247.73,642.06 L1248.10,640.11 L1248.46,638.11 L1248.82,636.04 L1249.18,633.92 L1249.54,631.73 L1249.90,629.49 L1250.27,627.19 L1250.63,624.84 L1250.99,622.42 L1251.35,619.95 L1251.71,617.42 L1252.08,614.83 L1252.44,612.18 L1252.80,609.47 L1253.16,606.71 L1253.52,603.89 L1253.88,601.01 L1254.24,598.07 L1254.61,595.07 L1254.97,592.02 L1255.33,588.90 L1255.69,585.73 L1256.05,582.50 L1256.41,579.21 L1256.78,575.87 L1257.14,572.46 L1257.50,569.00 L1257.85,572.15 L1258.19,575.24 L1258.54,578.29 L1258.89,581.28 L1259.23,584.21 L1259.58,587.10 L1259.93,589.93 L1260.27,592.71 L1260.62,595.43 L1260.97,598.10 L1261.31,600.72 L1261.66,603.29 L1262.01,605.80 L1262.35,608.26 L1262.70,610.67 L1263.05,613.03 L1263.39,615.33 L1263.74,617.58 L1264.09,619.77 L1264.43,621.92 L1264.78,624.01 L1265.13,626.04 L1265.47,628.03 L1265.82,629.96 L1266.17,631.84 L1266.51,633.66 L1266.86,635.44 L1267.21,637.16 L1267.55,638.82 L1267.90,640.44 L1268.25,642.00 L1268.59,643.51 L1268.94,644.96 L1269.29,646.36 L1269.63,647.71 L1269.98,649.01 L1270.33,650.25 L1270.67,651.44 L1271.02,652.58 L1271.37,653.67 L1271.71,654.70 L1272.06,655.68 L1272.41,656.60 L1272.75,657.48 L1273.10,658.30 L1273.45,659.06 L1273.79,659.78 L1274.14,660.44 L1274.49,661.05 L1274.83,661.60 L1275.18,662.11 L1275.53,662.56 L1275.87,662.95 L1276.22,663.30 L1276.57,663.59 L1276.91,663.83 L1277.26,664.01 L1277.61,664.14 L1277.95,664.22 L1278.30,664.25 L1278.69,664.22 L1279.07,664.11 L1279.46,663.95 L1279.85,663.71 L1280.23,663.40 L1280.62,663.03 L1281.01,662.59 L1281.39,662.08 L1281.78,661.51 L1282.17,660.86 L1282.55,660.15 L1282.94,659.37 L1283.33,658.53 L1283.71,657.61 L1284.10,656.63 L1284.49,655.58 L1284.87,654.46 L1285.26,653.27 L1285.65,652.02 L1286.03,650.70 L1286.42,649.31 L1286.81,647.85 L1287.19,646.33 L1287.58,644.74 L1287.97,643.08 L1288.35,641.35 L1288.74,639.56 L1289.13,637.69 L1289.51,635.76 L1289.90,633.76 L1290.29,631.70 L1290.67,629.56 L1291.06,627.36 L1291.45,625.09 L1291.83,622.75 L1292.22,620.35 L1292.61,617.88 L1292.99,615.33 L1293.38,612.73 L1293.77,610.05 L1294.15,607.31 L1294.54,604.49 L1294.93,601.62 L1295.31,598.67 L1295.70,595.65 L1296.09,592.57 L1296.47,589.42 L1296.86,586.20 L1297.25,582.92 L1297.63,579.56 L1298.02,576.14 L1298.41,572.65 L1298.79,569.10 L1299.18,565.47 L1299.57,561.78 L1299.95,558.02 L1300.34,554.19 L1300.73,550.29 L1301.11,546.33 L1301.50,542.30 L1301.82,545.00 L1302.14,547.65 L1302.45,550.25 L1302.77,552.81 L1303.09,555.33 L1303.41,557.79 L1303.73,560.22 L1304.05,562.60 L1304.37,564.93 L1304.68,567.22 L1305.00,569.46 L1305.32,571.66 L1305.64,573.81 L1305.96,575.92 L1306.28,577.98 L1306.59,579.99 L1306.91,581.97 L1307.23,583.89 L1307.55,585.77 L1307.87,587.61 L1308.18,589.40 L1308.50,591.14 L1308.82,592.84 L1309.14,594.49 L1309.46,596.10 L1309.78,597.66 L1310.10,599.18 L1310.41,600.65 L1310.73,602.08 L1311.05,603.46 L1311.37,604.80 L1311.69,606.09 L1312.00,607.34 L1312.32,608.54 L1312.64,609.69 L1312.96,610.80 L1313.28,611.87 L1313.60,612.89 L1313.91,613.86 L1314.23,614.79 L1314.55,615.67 L1314.87,616.51 L1315.19,617.30 L1315.51,618.05 L1315.82,618.75 L1316.14,619.41 L1316.46,620.02 L1316.78,620.59 L1317.10,621.11 L1317.42,621.58 L1317.73,622.02 L1318.05,622.40 L1318.37,622.74 L1318.69,623.03 L1319.01,623.28 L1319.33,623.49 L1319.64,623.65 L1319.96,623.76 L1320.28,623.83 L1320.60,623.85 L1321.01,623.81 L1321.43,623.70 L1321.84,623.50 L1322.25,623.23 L1322.67,622.89 L1323.08,622.46 L1323.49,621.96 L1323.91,621.38 L1324.32,620.73 L1324.73,619.99 L1325.15,619.18 L1325.56,618.30 L1325.97,617.33 L1326.39,616.29 L1326.80,615.17 L1327.21,613.98 L1327.63,612.70 L1328.04,611.35 L1328.45,609.93 L1328.87,608.42 L1329.28,606.84 L1329.69,605.18 L1330.11,603.45 L1330.52,601.63 L1330.93,599.74 L1331.35,597.78 L1331.76,595.73 L1332.17,593.61 L1332.59,591.41 L1333.00,589.14 L1333.41,586.78 L1333.83,584.35 L1334.24,581.85 L1334.65,579.26 L1335.07,576.60 L1335.48,573.86 L1335.89,571.05 L1336.31,568.16 L1336.72,565.19 L1337.13,562.14 L1337.55,559.01 L1337.96,555.81 L1338.37,552.54 L1338.79,549.18 L1339.20,545.75 L1339.61,542.24 L1340.03,538.65 L1340.44,534.99 L1340.85,531.24 L1341.27,527.43 L1341.68,523.53 L1342.09,519.56 L1342.51,515.51 L1342.92,511.38 L1343.33,507.18 L1343.75,502.90 L1344.16,498.54 L1344.57,494.10 L1344.99,489.59 L1345.40,485.00 L1345.70,487.38 L1346.00,489.71 L1346.31,492.01 L1346.61,494.26 L1346.91,496.48 L1347.21,498.65 L1347.51,500.79 L1347.81,502.88 L1348.12,504.94 L1348.42,506.95 L1348.72,508.93 L1349.02,510.87 L1349.32,512.76 L1349.62,514.62 L1349.93,516.43 L1350.23,518.21 L1350.53,519.95 L1350.83,521.64 L1351.13,523.30 L1351.43,524.92 L1351.74,526.49 L1352.04,528.03 L1352.34,529.53 L1352.64,530.98 L1352.94,532.40 L1353.24,533.78 L1353.55,535.12 L1353.85,536.41 L1354.15,537.67 L1354.45,538.89 L1354.75,540.07 L1355.05,541.20 L1355.36,542.30 L1355.66,543.36 L1355.96,544.38 L1356.26,545.35 L1356.56,546.29 L1356.86,547.19 L1357.16,548.05 L1357.47,548.87 L1357.77,549.65 L1358.07,550.38 L1358.37,551.08 L1358.67,551.74 L1358.97,552.36 L1359.28,552.94 L1359.58,553.48 L1359.88,553.98 L1360.18,554.44 L1360.48,554.85 L1360.79,555.23 L1361.09,555.57 L1361.39,555.87 L1361.69,556.13 L1361.99,556.35 L1362.29,556.53 L1362.60,556.67 L1362.90,556.77 L1363.20,556.83 L1363.50,556.85 L1363.91,556.81 L1364.33,556.69 L1364.74,556.49 L1365.16,556.20 L1365.58,555.84 L1365.99,555.39 L1366.40,554.86 L1366.82,554.26 L1367.24,553.57 L1367.65,552.80 L1368.07,551.95 L1368.48,551.02 L1368.89,550.00 L1369.31,548.91 L1369.72,547.73 L1370.14,546.48 L1370.56,545.14 L1370.97,543.72 L1371.38,542.22 L1371.80,540.64 L1372.22,538.98 L1372.63,537.24 L1373.05,535.42 L1373.46,533.51 L1373.88,531.53 L1374.29,529.46 L1374.70,527.32 L1375.12,525.09 L1375.54,522.78 L1375.95,520.39 L1376.37,517.92 L1376.78,515.36 L1377.20,512.73 L1377.61,510.02 L1378.03,507.22 L1378.44,504.34 L1378.86,501.39 L1379.27,498.35 L1379.68,495.23 L1380.10,492.03 L1380.52,488.75 L1380.93,485.38 L1381.35,481.94 L1381.76,478.42 L1382.18,474.81 L1382.59,471.12 L1383.01,467.35 L1383.42,463.51 L1383.84,459.58 L1384.25,455.57 L1384.66,451.47 L1385.08,447.30 L1385.50,443.05 L1385.91,438.71 L1386.33,434.30 L1386.74,429.80 L1387.16,425.22 L1387.57,420.56 L1387.99,415.82 L1388.40,411.00 L1388.69,413.21 L1388.99,415.38 L1389.28,417.52 L1389.57,419.62 L1389.87,421.68 L1390.16,423.70 L1390.45,425.69 L1390.75,427.64 L1391.04,429.55 L1391.33,431.43 L1391.63,433.26 L1391.92,435.07 L1392.21,436.83 L1392.51,438.56 L1392.80,440.25 L1393.09,441.90 L1393.39,443.52 L1393.68,445.09 L1393.97,446.63 L1394.27,448.14 L1394.56,449.61 L1394.85,451.04 L1395.15,452.43 L1395.44,453.78 L1395.73,455.10 L1396.03,456.38 L1396.32,457.63 L1396.61,458.83 L1396.91,460.00 L1397.20,461.14 L1397.49,462.23 L1397.79,463.29 L1398.08,464.31 L1398.37,465.30 L1398.67,466.24 L1398.96,467.15 L1399.25,468.03 L1399.55,468.86 L1399.84,469.66 L1400.13,470.42 L1400.43,471.15 L1400.72,471.83 L1401.01,472.48 L1401.31,473.10 L1401.60,473.67 L1401.89,474.21 L1402.19,474.71 L1402.48,475.18 L1402.77,475.60 L1403.07,475.99 L1403.36,476.35 L1403.65,476.66 L1403.95,476.94 L1404.24,477.18 L1404.53,477.39 L1404.83,477.55 L1405.12,477.68 L1405.41,477.78 L1405.71,477.83 L1406.00,477.85 L1406.42,477.81 L1406.83,477.69 L1407.25,477.48 L1407.67,477.20 L1408.08,476.83 L1408.50,476.38 L1408.92,475.84 L1409.33,475.23 L1409.75,474.53 L1410.17,473.76 L1410.58,472.90 L1411.00,471.96 L1411.42,470.93 L1411.83,469.83 L1412.25,468.64 L1412.67,467.37 L1413.08,466.02 L1413.50,464.59 L1413.92,463.07 L1414.33,461.48 L1414.75,459.80 L1415.17,458.04 L1415.58,456.20 L1416.00,454.27 L1416.42,452.27 L1416.83,450.18 L1417.25,448.01 L1417.67,445.76 L1418.08,443.43 L1418.50,441.01 L1418.92,438.52 L1419.33,435.94 L1419.75,433.28 L1420.17,430.53 L1420.58,427.71 L1421.00,424.80 L1421.42,421.82 L1421.83,418.75 L1422.25,415.59 L1422.67,412.36 L1423.08,409.05 L1423.50,405.65 L1423.92,402.17 L1424.33,398.61 L1424.75,394.97 L1425.17,391.24 L1425.58,387.43 L1426.00,383.55 L1426.42,379.58 L1426.83,375.52 L1427.25,371.39 L1427.67,367.17 L1428.08,362.88 L1428.50,358.50 L1428.92,354.04 L1429.33,349.49 L1429.75,344.87 L1430.17,340.16 L1430.58,335.37 L1431.00,330.50 L1431.29,332.68 L1431.58,334.82 L1431.88,336.92 L1432.17,338.99 L1432.46,341.02 L1432.75,343.01 L1433.04,344.97 L1433.33,346.89 L1433.62,348.77 L1433.92,350.62 L1434.21,352.43 L1434.50,354.21 L1434.79,355.94 L1435.08,357.64 L1435.38,359.31 L1435.67,360.94 L1435.96,362.53 L1436.25,364.08 L1436.54,365.60 L1436.83,367.08 L1437.12,368.53 L1437.42,369.94 L1437.71,371.31 L1438.00,372.64 L1438.29,373.94 L1438.58,375.20 L1438.88,376.43 L1439.17,377.62 L1439.46,378.77 L1439.75,379.89 L1440.04,380.97 L1440.33,382.01 L1440.62,383.02 L1440.92,383.98 L1441.21,384.92 L1441.50,385.81 L1441.79,386.67 L1442.08,387.50 L1442.38,388.28 L1442.67,389.03 L1442.96,389.75 L1443.25,390.42 L1443.54,391.06 L1443.83,391.67 L1444.12,392.23 L1444.42,392.76 L1444.71,393.26 L1445.00,393.72 L1445.29,394.14 L1445.58,394.52 L1445.88,394.87 L1446.17,395.18 L1446.46,395.45 L1446.75,395.69 L1447.04,395.89 L1447.33,396.06 L1447.62,396.19 L1447.92,396.28 L1448.21,396.33 L1448.50,396.35 L1448.90,396.31 L1449.30,396.20 L1449.70,396.00 L1450.11,395.73 L1450.51,395.38 L1450.91,394.96 L1451.31,394.45 L1451.71,393.87 L1452.12,393.21 L1452.52,392.48 L1452.92,391.67 L1453.32,390.78 L1453.72,389.81 L1454.12,388.76 L1454.53,387.64 L1454.93,386.44 L1455.33,385.16 L1455.73,383.81 L1456.13,382.38 L1456.53,380.87 L1456.93,379.28 L1457.34,377.62 L1457.74,375.87 L1458.14,374.05 L1458.54,372.16 L1458.94,370.18 L1459.35,368.13 L1459.75,366.00 L1460.15,363.80 L1460.55,361.51 L1460.95,359.15 L1461.35,356.71 L1461.75,354.20 L1462.16,351.60 L1462.56,348.93 L1462.96,346.18 L1463.36,343.36 L1463.76,340.46 L1464.16,337.47 L1464.57,334.42 L1464.97,331.28 L1465.37,328.07 L1465.77,324.78 L1466.17,321.41 L1466.57,317.97 L1466.98,314.44 L1467.38,310.84 L1467.78,307.17 L1468.18,303.41 L1468.58,299.58 L1468.98,295.67 L1469.39,291.68 L1469.79,287.62 L1470.19,283.48 L1470.59,279.26 L1470.99,274.96 L1471.39,270.59 L1471.80,266.14 L1472.20,261.61 L1472.60,257.00 L1472.90,259.41 L1473.20,261.79 L1473.49,264.12 L1473.79,266.42 L1474.09,268.67 L1474.39,270.88 L1474.69,273.05 L1474.99,275.18 L1475.28,277.27 L1475.58,279.32 L1475.88,281.33 L1476.18,283.30 L1476.48,285.23 L1476.78,287.11 L1477.07,288.96 L1477.37,290.77 L1477.67,292.53 L1477.97,294.26 L1478.27,295.94 L1478.57,297.58 L1478.87,299.19 L1479.16,300.75 L1479.46,302.27 L1479.76,303.75 L1480.06,305.19 L1480.36,306.59 L1480.65,307.95 L1480.95,309.27 L1481.25,310.55 L1481.55,311.79 L1481.85,312.98 L1482.15,314.14 L1482.44,315.26 L1482.74,316.33 L1483.04,317.37 L1483.34,318.36 L1483.64,319.32 L1483.94,320.23 L1484.23,321.10 L1484.53,321.93 L1484.83,322.72 L1485.13,323.48 L1485.43,324.19 L1485.73,324.86 L1486.03,325.48 L1486.32,326.07 L1486.62,326.62 L1486.92,327.13 L1487.22,327.59 L1487.52,328.02 L1487.82,328.41 L1488.11,328.75 L1488.41,329.06 L1488.71,329.32 L1489.01,329.54 L1489.31,329.73 L1489.61,329.87 L1489.90,329.97 L1490.20,330.03 L1490.50,330.05 L1490.88,330.02 L1491.27,329.91 L1491.65,329.74 L1492.03,329.50 L1492.42,329.20 L1492.80,328.82 L1493.18,328.38 L1493.57,327.86 L1493.95,327.28 L1494.33,326.63 L1494.72,325.91 L1495.10,325.13 L1495.48,324.27 L1495.87,323.35 L1496.25,322.36 L1496.63,321.30 L1497.02,320.17 L1497.40,318.98 L1497.78,317.71 L1498.17,316.38 L1498.55,314.98 L1498.93,313.51 L1499.32,311.97 L1499.70,310.36 L1500.08,308.69 L1500.47,306.94 L1500.85,305.13 L1501.23,303.25 L1501.62,301.30 L1502.00,299.29 L1502.38,297.20 L1502.77,295.05 L1503.15,292.83 L1503.53,290.54 L1503.92,288.18 L1504.30,285.75 L1504.68,283.26 L1505.07,280.69 L1505.45,278.06 L1505.83,275.36 L1506.22,272.59 L1506.60,269.76 L1506.98,266.85 L1507.37,263.88 L1507.75,260.83 L1508.13,257.72 L1508.52,254.55 L1508.90,251.30 L1509.28,247.98 L1509.67,244.60 L1510.05,241.15 L1510.43,237.63 L1510.82,234.04 L1511.20,230.38 L1511.58,226.65 L1511.97,222.86 L1512.35,219.00 L1512.73,215.07 L1513.12,211.07 L1513.50,207.00 L1513.82,209.71 L1514.14,212.37 L1514.46,214.98 L1514.78,217.55 L1515.10,220.07 L1515.42,222.55 L1515.74,224.98 L1516.06,227.37 L1516.38,229.71 L1516.70,232.01 L1517.02,234.26 L1517.34,236.47 L1517.66,238.63 L1517.98,240.74 L1518.30,242.81 L1518.62,244.83 L1518.94,246.81 L1519.26,248.74 L1519.58,250.63 L1519.90,252.47 L1520.22,254.27 L1520.54,256.02 L1520.86,257.72 L1521.18,259.38 L1521.50,261.00 L1521.82,262.57 L1522.14,264.09 L1522.46,265.57 L1522.78,267.00 L1523.10,268.39 L1523.42,269.73 L1523.74,271.02 L1524.06,272.28 L1524.38,273.48 L1524.70,274.64 L1525.02,275.75 L1525.34,276.82 L1525.66,277.85 L1525.98,278.82 L1526.30,279.76 L1526.62,280.64 L1526.94,281.48 L1527.26,282.28 L1527.58,283.03 L1527.90,283.73 L1528.22,284.39 L1528.54,285.01 L1528.86,285.58 L1529.18,286.10 L1529.50,286.58 L1529.82,287.01 L1530.14,287.39 L1530.46,287.74 L1530.78,288.03 L1531.10,288.28 L1531.42,288.49 L1531.74,288.65 L1532.06,288.76 L1532.38,288.83 L1532.70,288.85 L1533.06,288.82 L1533.43,288.73 L1533.79,288.59 L1534.15,288.38 L1534.52,288.12 L1534.88,287.80 L1535.24,287.41 L1535.61,286.98 L1535.97,286.48 L1536.33,285.92 L1536.70,285.31 L1537.06,284.63 L1537.42,283.90 L1537.79,283.11 L1538.15,282.26 L1538.51,281.35 L1538.88,280.38 L1539.24,279.36 L1539.60,278.28 L1539.97,277.13 L1540.33,275.93 L1540.69,274.67 L1541.06,273.35 L1541.42,271.98 L1541.78,270.54 L1542.15,269.05 L1542.51,267.50 L1542.87,265.89 L1543.24,264.22 L1543.60,262.49 L1543.96,260.70 L1544.33,258.86 L1544.69,256.95 L1545.05,254.99 L1545.42,252.97 L1545.78,250.89 L1546.14,248.75 L1546.51,246.55 L1546.87,244.30 L1547.23,241.98 L1547.60,239.61 L1547.96,237.18 L1548.32,234.69 L1548.69,232.14 L1549.05,229.53 L1549.41,226.87 L1549.78,224.14 L1550.14,221.36 L1550.50,218.52 L1550.87,215.62 L1551.23,212.66 L1551.59,209.65 L1551.96,206.57 L1552.32,203.44 L1552.68,200.24 L1553.05,196.99 L1553.41,193.68 L1553.77,190.31 L1554.14,186.89 L1554.50,183.40 L1554.85,186.62 L1555.21,189.79 L1555.56,192.90 L1555.91,195.96 L1556.27,198.96 L1556.62,201.92 L1556.97,204.81 L1557.33,207.65 L1557.68,210.44 L1558.03,213.18 L1558.39,215.86 L1558.74,218.48 L1559.09,221.05 L1559.45,223.57 L1559.80,226.03 L1560.15,228.44 L1560.51,230.80 L1560.86,233.10 L1561.21,235.35 L1561.57,237.54 L1561.92,239.68 L1562.27,241.76 L1562.63,243.79 L1562.98,245.77 L1563.33,247.69 L1563.69,249.56 L1564.04,251.37 L1564.39,253.13 L1564.75,254.84 L1565.10,256.49 L1565.45,258.08 L1565.81,259.63 L1566.16,261.12 L1566.51,262.55 L1566.87,263.93 L1567.22,265.26 L1567.57,266.53 L1567.93,267.75 L1568.28,268.91 L1568.63,270.02 L1568.99,271.08 L1569.34,272.08 L1569.69,273.03 L1570.05,273.92 L1570.40,274.76 L1570.75,275.54 L1571.11,276.28 L1571.46,276.95 L1571.81,277.57 L1572.17,278.14 L1572.52,278.66 L1572.87,279.12 L1573.23,279.52 L1573.58,279.88 L1573.93,280.17 L1574.29,280.42 L1574.64,280.61 L1574.99,280.74 L1575.35,280.82 L1575.70,280.85 L1576.03,280.83 L1576.35,280.75 L1576.67,280.63 L1577.00,280.45 L1577.33,280.23 L1577.65,279.96 L1577.98,279.64 L1578.30,279.27 L1578.62,278.84 L1578.95,278.37 L1579.28,277.85 L1579.60,277.28 L1579.92,276.66 L1580.25,276.00 L1580.58,275.28 L1580.90,274.51 L1581.23,273.69 L1581.55,272.83 L1581.88,271.91 L1582.20,270.94 L1582.53,269.93 L1582.85,268.86 L1583.17,267.75 L1583.50,266.59 L1583.83,265.37 L1584.15,264.11 L1584.48,262.80 L1584.80,261.44 L1585.12,260.02 L1585.45,258.56 L1585.78,257.05 L1586.10,255.49 L1586.42,253.88 L1586.75,252.22 L1587.08,250.51 L1587.40,248.76 L1587.73,246.95 L1588.05,245.09 L1588.38,243.18 L1588.70,241.23 L1589.03,239.22 L1589.35,237.17 L1589.67,235.06 L1590.00,232.91 L1590.33,230.70 L1590.65,228.45 L1590.98,226.15 L1591.30,223.79 L1591.62,221.39 L1591.95,218.94 L1592.28,216.44 L1592.60,213.89 L1592.92,211.29 L1593.25,208.64 L1593.58,205.94 L1593.90,203.19 L1594.23,200.39 L1594.55,197.54 L1594.88,194.65 L1595.20,191.70 L1595.58,195.48 L1595.95,199.20 L1596.33,202.85 L1596.71,206.44 L1597.08,209.96 L1597.46,213.43 L1597.84,216.83 L1598.21,220.16 L1598.59,223.43 L1598.97,226.64 L1599.34,229.78 L1599.72,232.87 L1600.10,235.88 L1600.47,238.84 L1600.85,241.73 L1601.23,244.56 L1601.60,247.32 L1601.98,250.02 L1602.36,252.65 L1602.73,255.23 L1603.11,257.74 L1603.49,260.18 L1603.86,262.57 L1604.24,264.88 L1604.62,267.14 L1604.99,269.33 L1605.37,271.46 L1605.75,273.52 L1606.12,275.52 L1606.50,277.46 L1606.88,279.34 L1607.25,281.15 L1607.63,282.89 L1608.01,284.58 L1608.38,286.20 L1608.76,287.75 L1609.14,289.25 L1609.51,290.68 L1609.89,292.04 L1610.27,293.34 L1610.64,294.58 L1611.02,295.76 L1611.40,296.87 L1611.77,297.92 L1612.15,298.90 L1612.53,299.82 L1612.90,300.68 L1613.28,301.48 L1613.66,302.21 L1614.03,302.87 L1614.41,303.48 L1614.79,304.02 L1615.16,304.49 L1615.54,304.91 L1615.92,305.26 L1616.29,305.54 L1616.67,305.76 L1617.05,305.92 L1617.42,306.02 L1617.80,306.05 L1618.11,306.03 L1618.41,305.96 L1618.71,305.85 L1619.02,305.70 L1619.33,305.51 L1619.63,305.27 L1619.93,304.99 L1620.24,304.66 L1620.54,304.29 L1620.85,303.88 L1621.15,303.43 L1621.46,302.93 L1621.76,302.39 L1622.07,301.80 L1622.38,301.17 L1622.68,300.50 L1622.98,299.78 L1623.29,299.03 L1623.60,298.22 L1623.90,297.38 L1624.20,296.49 L1624.51,295.56 L1624.81,294.58 L1625.12,293.56 L1625.42,292.50 L1625.73,291.39 L1626.03,290.24 L1626.34,289.05 L1626.64,287.82 L1626.95,286.54 L1627.25,285.21 L1627.56,283.85 L1627.87,282.44 L1628.17,280.99 L1628.47,279.49 L1628.78,277.95 L1629.09,276.37 L1629.39,274.74 L1629.69,273.07 L1630.00,271.36 L1630.30,269.60 L1630.61,267.81 L1630.91,265.96 L1631.22,264.08 L1631.52,262.15 L1631.83,260.17 L1632.13,258.16 L1632.44,256.10 L1632.74,253.99 L1633.05,251.85 L1633.36,249.66 L1633.66,247.43 L1633.96,245.15 L1634.27,242.83 L1634.57,240.47 L1634.88,238.06 L1635.18,235.61 L1635.49,233.12 L1635.79,230.58 L1636.10,228.00 L1636.50,232.39 L1636.90,236.72 L1637.30,240.96 L1637.70,245.14 L1638.10,249.24 L1638.50,253.26 L1638.90,257.21 L1639.30,261.09 L1639.70,264.89 L1640.10,268.62 L1640.50,272.28 L1640.90,275.86 L1641.30,279.37 L1641.70,282.80 L1642.10,286.17 L1642.50,289.45 L1642.90,292.67 L1643.30,295.80 L1643.70,298.87 L1644.10,301.86 L1644.50,304.78 L1644.90,307.62 L1645.30,310.39 L1645.70,313.09 L1646.10,315.71 L1646.50,318.26 L1646.90,320.73 L1647.30,323.13 L1647.70,325.46 L1648.10,327.71 L1648.50,329.89 L1648.90,332.00 L1649.30,334.03 L1649.70,335.98 L1650.10,337.87 L1650.50,339.68 L1650.90,341.41 L1651.30,343.08 L1651.70,344.66 L1652.10,346.18 L1652.50,347.62 L1652.90,348.98 L1653.30,350.28 L1653.70,351.50 L1654.10,352.64 L1654.50,353.71 L1654.90,354.71 L1655.30,355.63 L1655.70,356.48 L1656.10,357.26 L1656.50,357.96 L1656.90,358.59 L1657.30,359.14 L1657.70,359.62 L1658.10,360.03 L1658.50,360.36 L1658.90,360.62 L1659.30,360.80 L1659.70,360.91 L1660.10,360.95 L1660.39,360.93 L1660.68,360.88 L1660.97,360.78 L1661.26,360.65 L1661.55,360.48 L1661.84,360.28 L1662.13,360.03 L1662.42,359.75 L1662.71,359.44 L1663.00,359.08 L1663.29,358.69 L1663.58,358.26 L1663.87,357.79 L1664.16,357.29 L1664.45,356.75 L1664.74,356.17 L1665.03,355.55 L1665.32,354.90 L1665.61,354.21 L1665.90,353.48 L1666.19,352.71 L1666.48,351.91 L1666.77,351.07 L1667.06,350.19 L1667.35,349.27 L1667.64,348.32 L1667.93,347.33 L1668.22,346.30 L1668.51,345.24 L1668.80,344.14 L1669.09,343.00 L1669.38,341.82 L1669.67,340.61 L1669.96,339.36 L1670.25,338.07 L1670.54,336.74 L1670.83,335.38 L1671.12,333.98 L1671.41,332.54 L1671.70,331.06 L1671.99,329.55 L1672.28,328.00 L1672.57,326.41 L1672.86,324.78 L1673.15,323.12 L1673.44,321.42 L1673.73,319.68 L1674.02,317.91 L1674.31,316.10 L1674.60,314.25 L1674.89,312.36 L1675.18,310.44 L1675.47,308.48 L1675.76,306.48 L1676.05,304.44 L1676.34,302.37 L1676.63,300.26 L1676.92,298.11 L1677.21,295.92 L1677.50,293.70 L1677.92,298.42 L1678.34,303.06 L1678.76,307.62 L1679.18,312.10 L1679.60,316.50 L1680.02,320.82 L1680.44,325.07 L1680.86,329.23 L1681.28,333.31 L1681.70,337.32 L1682.12,341.24 L1682.54,345.09 L1682.96,348.86 L1683.38,352.54 L1683.80,356.15 L1684.22,359.68 L1684.64,363.13 L1685.06,366.50 L1685.48,369.79 L1685.90,373.01 L1686.32,376.14 L1686.74,379.19 L1687.16,382.17 L1687.58,385.06 L1688.00,387.88 L1688.42,390.61 L1688.84,393.27 L1689.26,395.85 L1689.68,398.34 L1690.10,400.76 L1690.52,403.10 L1690.94,405.36 L1691.36,407.54 L1691.78,409.64 L1692.20,411.67 L1692.62,413.61 L1693.04,415.47 L1693.46,417.26 L1693.88,418.96 L1694.30,420.59 L1694.72,422.14 L1695.14,423.60 L1695.56,424.99 L1695.98,426.30 L1696.40,427.53 L1696.82,428.68 L1697.24,429.75 L1697.66,430.74 L1698.08,431.65 L1698.50,432.48 L1698.92,433.24 L1699.34,433.91 L1699.76,434.51 L1700.18,435.02 L1700.60,435.46 L1701.02,435.82 L1701.44,436.09 L1701.86,436.29 L1702.28,436.41 L1702.70,436.45 L1702.99,436.43 L1703.28,436.38 L1703.57,436.28 L1703.86,436.15 L1704.15,435.99 L1704.44,435.79 L1704.73,435.55 L1705.02,435.27 L1705.31,434.95 L1705.60,434.60 L1705.89,434.22 L1706.18,433.79 L1706.47,433.33 L1706.76,432.83 L1707.05,432.30 L1707.34,431.72 L1707.63,431.12 L1707.92,430.47 L1708.21,429.79 L1708.50,429.07 L1708.79,428.31 L1709.08,427.52 L1709.37,426.69 L1709.66,425.82 L1709.95,424.91 L1710.24,423.97 L1710.53,422.99 L1710.82,421.98 L1711.11,420.93 L1711.40,419.84 L1711.69,418.71 L1711.98,417.55 L1712.27,416.35 L1712.56,415.11 L1712.85,413.84 L1713.14,412.53 L1713.43,411.18 L1713.72,409.80 L1714.01,408.37 L1714.30,406.92 L1714.59,405.42 L1714.88,403.89 L1715.17,402.32 L1715.46,400.71 L1715.75,399.07 L1716.04,397.39 L1716.33,395.68 L1716.62,393.92 L1716.91,392.13 L1717.20,390.30 L1717.49,388.44 L1717.78,386.54 L1718.07,384.60 L1718.36,382.63 L1718.65,380.61 L1718.94,378.56 L1719.23,376.48 L1719.52,374.36 L1719.81,372.20 L1720.10,370.00 L1720.52,374.92 L1720.94,379.76 L1721.36,384.51 L1721.78,389.19 L1722.20,393.77 L1722.62,398.28 L1722.90,411.00" fill="none" stroke="#000" stroke-width="8.5" stroke-linejoin="bevel"/>
<line x1="586.7" y1="1433.5" x2="586.7" y2="2621.0" stroke="#262626" stroke-opacity="0.15" stroke-width="9"/>
<line x1="891.0" y1="1433.5" x2="891.0" y2="2621.0" stroke="#262626" stroke-opacity="0.15" stroke-width="9"/>
<line x1="1195.1" y1="1433.5" x2="1195.1" y2="2621.0" stroke="#262626" stroke-opacity="0.15" stroke-width="9"/>
<line x1="1498.8" y1="1433.5" x2="1498.8" y2="2621.0" stroke="#262626" stroke-opacity="0.15" stroke-width="9"/>
<line x1="283.6" y1="2325.3" x2="1802.8" y2="2325.3" stroke="#262626" stroke-opacity="0.15" stroke-width="9"/>
<line x1="283.6" y1="2027.2" x2="1802.8" y2="2027.2" stroke="#262626" stroke-opacity="0.15" stroke-width="9"/>
<line x1="283.6" y1="1729.4" x2="1802.8" y2="1729.4" stroke="#262626" stroke-opacity="0.15" stroke-width="9"/>
<rect x="283.6" y="1433.5" width="1519.1999999999998" height="1187.5" fill="none" stroke="#1e1e1e" stroke-width="8"/>
<path d="M586.70,1433.5V1451.1M586.70,2621.0V2603.4M891.00,1433.5V1451.1M891.00,2621.0V2603.4M1195.10,1433.5V1451.1M1195.10,2621.0V2603.4M1498.80,1433.5V1451.1M1498.80,2621.0V2603.4M283.6,2325.30H301.20000000000005M1802.8,2325.30H1785.2M283.6,2027.20H301.20000000000005M1802.8,2027.20H1785.2M283.6,1729.40H301.20000000000005M1802.8,1729.40H1785.2" stroke="#1e1e1e" stroke-width="8" fill="none"/>
<line x1="742" y1="1433.5" x2="742" y2="2621.0" stroke="#ff0000" stroke-width="5.8" stroke-dasharray="22 15.95" stroke-dashoffset="24.95"/>
<path d="M1068.1,2451.2H1081.2M1098.5,2451.2H1119.5M1136.2,2451.2H1156.8M1174.5,2451.2H1195.1M1212.8,2451.2H1232.4M1250.1,2451.2H1270.7M1287.4,2451.2H1309M1069.5,2614.5H1087.1M1104.8,2614.5H1124.4M1142.1,2614.5H1161.7M1180.4,2614.5H1199M1217.7,2614.5H1236.4M1255,2614.5H1274.6M1292.3,2614.5H1313.9M1070.8,2448.5V2461.3M1070.8,2479V2499.6M1070.8,2516.3V2537.9M1070.8,2554.6V2576.2M1070.8,2591.9V2617.4M1314.5,2460.3V2482.9M1314.5,2498.6V2520.2M1314.5,2536.9V2558.5M1314.5,2575.2V2596.8" stroke="#7c1ca6" stroke-width="5.5" fill="none"/>
<path d="M283.60,2521.84 L298.79,2621.00 L313.98,2621.00 L329.18,2621.00 L344.37,2030.22 L359.56,2621.00 L374.75,2621.00 L389.94,2621.00 L405.14,2616.84 L420.33,2621.00 L435.52,2621.00 L450.71,2621.00 L465.90,2621.00 L481.10,2621.00 L496.29,2621.00 L511.48,2621.00 L526.67,2621.00 L541.86,2621.00 L557.06,2621.00 L572.25,2621.00 L587.44,2621.00 L602.63,2621.00 L617.82,2621.00 L633.02,2621.00 L648.21,2621.00 L663.40,2621.00 L678.59,2621.00 L693.78,2621.00 L708.98,2621.00 L724.17,2621.00 L739.36,2621.00 L754.55,2621.00 L769.74,2621.00 L784.94,2621.00 L800.13,2621.00 L815.32,2621.00 L830.51,2621.00 L845.70,2621.00 L860.90,2621.00 L876.09,2621.00 L891.28,2621.00 L906.47,2621.00 L921.66,2621.00 L936.86,2621.00 L952.05,2621.00 L967.24,2621.00 L982.43,2621.00 L997.62,2621.00 L1012.82,2621.00 L1028.01,2621.00 L1043.20,2621.00 L1058.39,2621.00 L1073.58,2618.03 L1088.78,2621.00 L1103.97,2621.00 L1119.16,2621.00 L1134.35,2583.59 L1149.54,2621.00 L1164.74,2621.00 L1179.93,2621.00 L1195.12,2505.22 L1210.31,2621.00 L1225.50,2621.00 L1240.70,2621.00 L1255.89,2588.34 L1271.08,2621.00 L1286.27,2621.00 L1301.46,2621.00 L1316.66,2618.03 L1331.85,2621.00 L1347.04,2621.00 L1362.23,2621.00 L1377.42,2621.00 L1392.62,2621.00 L1407.81,2621.00 L1423.00,2621.00 L1438.19,2621.00 L1453.38,2621.00 L1468.58,2621.00 L1483.77,2621.00 L1498.96,2621.00 L1514.15,2621.00 L1529.34,2621.00 L1544.54,2621.00 L1559.73,2621.00 L1574.92,2621.00 L1590.11,2621.00 L1605.30,2621.00 L1620.50,2621.00 L1635.69,2621.00 L1650.88,2621.00 L1666.07,2621.00 L1681.26,2621.00 L1696.46,2621.00 L1711.65,2621.00 L1726.84,2621.00 L1742.03,2621.00 L1757.22,2621.00 L1772.42,2621.00 L1787.61,2621.00 L1802.80,2621.00" fill="none" stroke="#0072c2" stroke-width="8.5" stroke-linejoin="round"/>
<circle cx="344.2" cy="2029.9" r="11.7" fill="#0072c2"/>
<line x1="363.40" y1="2021.00" x2="399.51" y2="1994.71" stroke="#0072c2" stroke-width="8"/><path d="M432.50,1970.70L399.58,2007.03L399.51,1994.71L387.81,1990.86Z" fill="#0072c2"/>
<line x1="763.70" y1="1642.70" x2="800.78" y2="1616.03" stroke="#ff0000" stroke-width="8"/><path d="M833.90,1592.20L800.77,1628.35L800.78,1616.03L789.10,1612.11Z" fill="#ff0000"/>
<line x1="1157.30" y1="2437.70" x2="1194.49" y2="2410.68" stroke="#7c1ca6" stroke-width="8"/><path d="M1227.50,2386.70L1194.54,2423.00L1194.49,2410.68L1182.79,2406.82Z" fill="#7c1ca6"/>
<text x="379.25" y="92.00" text-anchor="middle" style="font-family:'Liberation Serif',serif;font-size:64.02px" fill="#222222" textLength="113.06" lengthAdjust="spacingAndGlyphs">0.02</text>
<text x="376.50" y="289.30" text-anchor="middle" style="font-family:'Liberation Serif',serif;font-size:64.61px" fill="#222222" textLength="108.41" lengthAdjust="spacingAndGlyphs">0.01</text>
<text x="418.00" y="487.00" text-anchor="middle" style="font-family:'Liberation Serif',serif;font-size:64.00px" fill="#222222" textLength="34.86" lengthAdjust="spacingAndGlyphs">0</text>
<text x="359.75" y="684.70" text-anchor="middle" style="font-family:'Liberation Serif',serif;font-size:63.41px" fill="#222222" textLength="140.53" lengthAdjust="spacingAndGlyphs">−0.01</text>
<text x="363.00" y="883.00" text-anchor="middle" style="font-family:'Liberation Serif',serif;font-size:64.02px" fill="#222222" textLength="145.37" lengthAdjust="spacingAndGlyphs">−0.02</text>
<text x="451.25" y="975.30" text-anchor="middle" style="font-family:'Liberation Serif',serif;font-size:64.61px" fill="#222222" textLength="34.73" lengthAdjust="spacingAndGlyphs">0</text>
<text x="768.25" y="975.00" text-anchor="middle" style="font-family:'Liberation Serif',serif;font-size:64.00px" fill="#222222" textLength="34.23" lengthAdjust="spacingAndGlyphs">5</text>
<text x="1088.25" y="975.80" text-anchor="middle" style="font-family:'Liberation Serif',serif;font-size:64.61px" fill="#222222" textLength="64.47" lengthAdjust="spacingAndGlyphs">10</text>
<text x="1404.50" y="975.80" text-anchor="middle" style="font-family:'Liberation Serif',serif;font-size:64.61px" fill="#222222" textLength="63.78" lengthAdjust="spacingAndGlyphs">15</text>
<text x="1723.50" y="975.80" text-anchor="middle" style="font-family:'Liberation Serif',serif;font-size:64.61px" fill="#222222" textLength="66.41" lengthAdjust="spacingAndGlyphs">20</text>
<text x="1087.50" y="1137.20" text-anchor="middle" style="font-family:'Liberation Serif',serif;font-size:72.14px" fill="#222222" textLength="581.21" lengthAdjust="spacingAndGlyphs">Sampling length(mm)</text>
<text transform="translate(210.40,483.50) rotate(-90)" x="0" y="0" text-anchor="middle" style="font-family:'Liberation Serif',serif;font-size:68.15px" fill="#222222" textLength="578.23" lengthAdjust="spacingAndGlyphs">Residual height(mm)</text>
<text x="1004.50" y="1296.40" text-anchor="middle" style="font-family:'Liberation Serif',serif;font-size:87.56px" fill="#000" textLength="94.89" lengthAdjust="spacingAndGlyphs">(<tspan font-weight="bold">a</tspan>)</text>
<text x="202.50" y="1458.50" text-anchor="middle" style="font-family:'Liberation Serif',serif;font-size:71.02px" fill="#1a1a1a" textLength="122.78" lengthAdjust="spacingAndGlyphs">0.02</text>
<text x="183.00" y="1757.00" text-anchor="middle" style="font-family:'Liberation Serif',serif;font-size:69.55px" fill="#1a1a1a" textLength="155.01" lengthAdjust="spacingAndGlyphs">0.015</text>
<text x="199.25" y="2054.50" text-anchor="middle" style="font-family:'Liberation Serif',serif;font-size:69.55px" fill="#1a1a1a" textLength="119.62" lengthAdjust="spacingAndGlyphs">0.01</text>
<text x="184.00" y="2350.60" text-anchor="middle" style="font-family:'Liberation Serif',serif;font-size:70.72px" fill="#1a1a1a" textLength="155.63" lengthAdjust="spacingAndGlyphs">0.005</text>
<text x="246.00" y="2645.80" text-anchor="middle" style="font-family:'Liberation Serif',serif;font-size:70.21px" fill="#1a1a1a" textLength="35.75" lengthAdjust="spacingAndGlyphs">0</text>
<text x="283.25" y="2704.70" text-anchor="middle" style="font-family:'Liberation Serif',serif;font-size:69.00px" fill="#1a1a1a" textLength="38.60" lengthAdjust="spacingAndGlyphs">0</text>
<text x="588.25" y="2704.70" text-anchor="middle" style="font-family:'Liberation Serif',serif;font-size:69.00px" fill="#1a1a1a" textLength="104.11" lengthAdjust="spacingAndGlyphs">100</text>
<text x="890.25" y="2704.70" text-anchor="middle" style="font-family:'Liberation Serif',serif;font-size:69.00px" fill="#1a1a1a" textLength="109.06" lengthAdjust="spacingAndGlyphs">200</text>
<text x="1193.25" y="2704.70" text-anchor="middle" style="font-family:'Liberation Serif',serif;font-size:69.00px" fill="#1a1a1a" textLength="105.03" lengthAdjust="spacingAndGlyphs">300</text>
<text x="1496.75" y="2704.70" text-anchor="middle" style="font-family:'Liberation Serif',serif;font-size:69.00px" fill="#1a1a1a" textLength="103.61" lengthAdjust="spacingAndGlyphs">400</text>
<text x="1801.00" y="2704.70" text-anchor="middle" style="font-family:'Liberation Serif',serif;font-size:69.00px" fill="#1a1a1a" textLength="101.82" lengthAdjust="spacingAndGlyphs">500</text>
<text x="1043.50" y="2787.40" text-anchor="middle" style="font-family:'Liberation Serif',serif;font-size:71.59px" fill="#1a1a1a" textLength="420.70" lengthAdjust="spacingAndGlyphs">Frequency(Hz)</text>
<text transform="translate(82.20,2025.25) rotate(-90)" x="0" y="0" text-anchor="middle" style="font-family:'Liberation Serif',serif;font-size:69.59px" fill="#1a1a1a" textLength="452.12" lengthAdjust="spacingAndGlyphs">Amplitude(mm)</text>
<text x="1004.50" y="2889.70" text-anchor="middle" style="font-family:'Liberation Serif',serif;font-size:88.28px" fill="#000" textLength="105.34" lengthAdjust="spacingAndGlyphs">(<tspan font-weight="bold">b</tspan>)</text>
<text x="540.75" y="1934.50" text-anchor="middle" style="font-family:'Liberation Serif',serif;font-size:50.25px" fill="#0072c2" textLength="518.11" lengthAdjust="spacingAndGlyphs">Amplitude = 0.0098 mm</text>
<text x="1118.75" y="1557.00" text-anchor="middle" style="font-family:'Liberation Serif',serif;font-size:52.50px" fill="#ff0000" textLength="702.14" lengthAdjust="spacingAndGlyphs">Upper limit of the filter = 150 Hz</text>
<text x="1011.25" y="2168.00" text-anchor="middle" style="font-family:'Liberation Serif',serif;font-size:49.50px" fill="#7c1ca6" textLength="76.16" lengthAdjust="spacingAndGlyphs">The</text>
<text x="1187.00" y="2168.00" text-anchor="middle" style="font-family:'Liberation Serif',serif;font-size:49.50px" fill="#7c1ca6" textLength="243.59" lengthAdjust="spacingAndGlyphs">interference</text>
<text x="1440.50" y="2168.00" text-anchor="middle" style="font-family:'Liberation Serif',serif;font-size:49.50px" fill="#7c1ca6" textLength="225.20" lengthAdjust="spacingAndGlyphs">component</text>
<text x="1649.25" y="2168.00" text-anchor="middle" style="font-family:'Liberation Serif',serif;font-size:49.50px" fill="#7c1ca6" textLength="147.01" lengthAdjust="spacingAndGlyphs">formed</text>
<text x="992.00" y="2231.70" text-anchor="middle" style="font-family:'Liberation Serif',serif;font-size:49.50px" fill="#7c1ca6" textLength="41.00" lengthAdjust="spacingAndGlyphs">by</text>
<text x="1082.50" y="2231.70" text-anchor="middle" style="font-family:'Liberation Serif',serif;font-size:49.50px" fill="#7c1ca6" textLength="97.64" lengthAdjust="spacingAndGlyphs">ideal</text>
<text x="1245.50" y="2231.70" text-anchor="middle" style="font-family:'Liberation Serif',serif;font-size:49.50px" fill="#7c1ca6" textLength="190.83" lengthAdjust="spacingAndGlyphs">structural</text>
<text x="1455.25" y="2231.70" text-anchor="middle" style="font-family:'Liberation Serif',serif;font-size:49.50px" fill="#7c1ca6" textLength="184.94" lengthAdjust="spacingAndGlyphs">elements</text>
<text x="1610.00" y="2231.70" text-anchor="middle" style="font-family:'Liberation Serif',serif;font-size:49.50px" fill="#7c1ca6" textLength="94.75" lengthAdjust="spacingAndGlyphs">(will</text>
<text x="1701.00" y="2231.70" text-anchor="middle" style="font-family:'Liberation Serif',serif;font-size:49.50px" fill="#7c1ca6" textLength="47.57" lengthAdjust="spacingAndGlyphs">be</text>
<text x="1058.00" y="2294.50" text-anchor="middle" style="font-family:'Liberation Serif',serif;font-size:49.50px" fill="#7c1ca6" textLength="179.27" lengthAdjust="spacingAndGlyphs">removed</text>
<text x="1242.50" y="2294.50" text-anchor="middle" style="font-family:'Liberation Serif',serif;font-size:49.50px" fill="#7c1ca6" textLength="153.20" lengthAdjust="spacingAndGlyphs">through</text>
<text x="1376.00" y="2294.50" text-anchor="middle" style="font-family:'Liberation Serif',serif;font-size:49.50px" fill="#7c1ca6" textLength="62.37" lengthAdjust="spacingAndGlyphs">the</text>
<text x="1468.75" y="2294.50" text-anchor="middle" style="font-family:'Liberation Serif',serif;font-size:49.50px" fill="#7c1ca6" textLength="97.85" lengthAdjust="spacingAndGlyphs">filter</text>
<text x="1601.50" y="2294.50" text-anchor="middle" style="font-family:'Liberation Serif',serif;font-size:49.50px" fill="#7c1ca6" textLength="130.28" lengthAdjust="spacingAndGlyphs">during</text>
<text x="1718.25" y="2294.50" text-anchor="middle" style="font-family:'Liberation Serif',serif;font-size:49.50px" fill="#7c1ca6" textLength="63.00" lengthAdjust="spacingAndGlyphs">the</text>
<text x="1027.25" y="2357.40" text-anchor="middle" style="font-family:'Liberation Serif',serif;font-size:49.50px" fill="#7c1ca6" textLength="119.00" lengthAdjust="spacingAndGlyphs">actual</text>
<text x="1169.75" y="2357.40" text-anchor="middle" style="font-family:'Liberation Serif',serif;font-size:49.50px" fill="#7c1ca6" textLength="125.97" lengthAdjust="spacingAndGlyphs">modal</text>
<text x="1332.75" y="2357.40" text-anchor="middle" style="font-family:'Liberation Serif',serif;font-size:49.50px" fill="#7c1ca6" textLength="163.37" lengthAdjust="spacingAndGlyphs">analysis</text>
<text x="1527.75" y="2357.40" text-anchor="middle" style="font-family:'Liberation Serif',serif;font-size:49.50px" fill="#7c1ca6" textLength="183.87" lengthAdjust="spacingAndGlyphs">process).</text></svg>
</body></html>
